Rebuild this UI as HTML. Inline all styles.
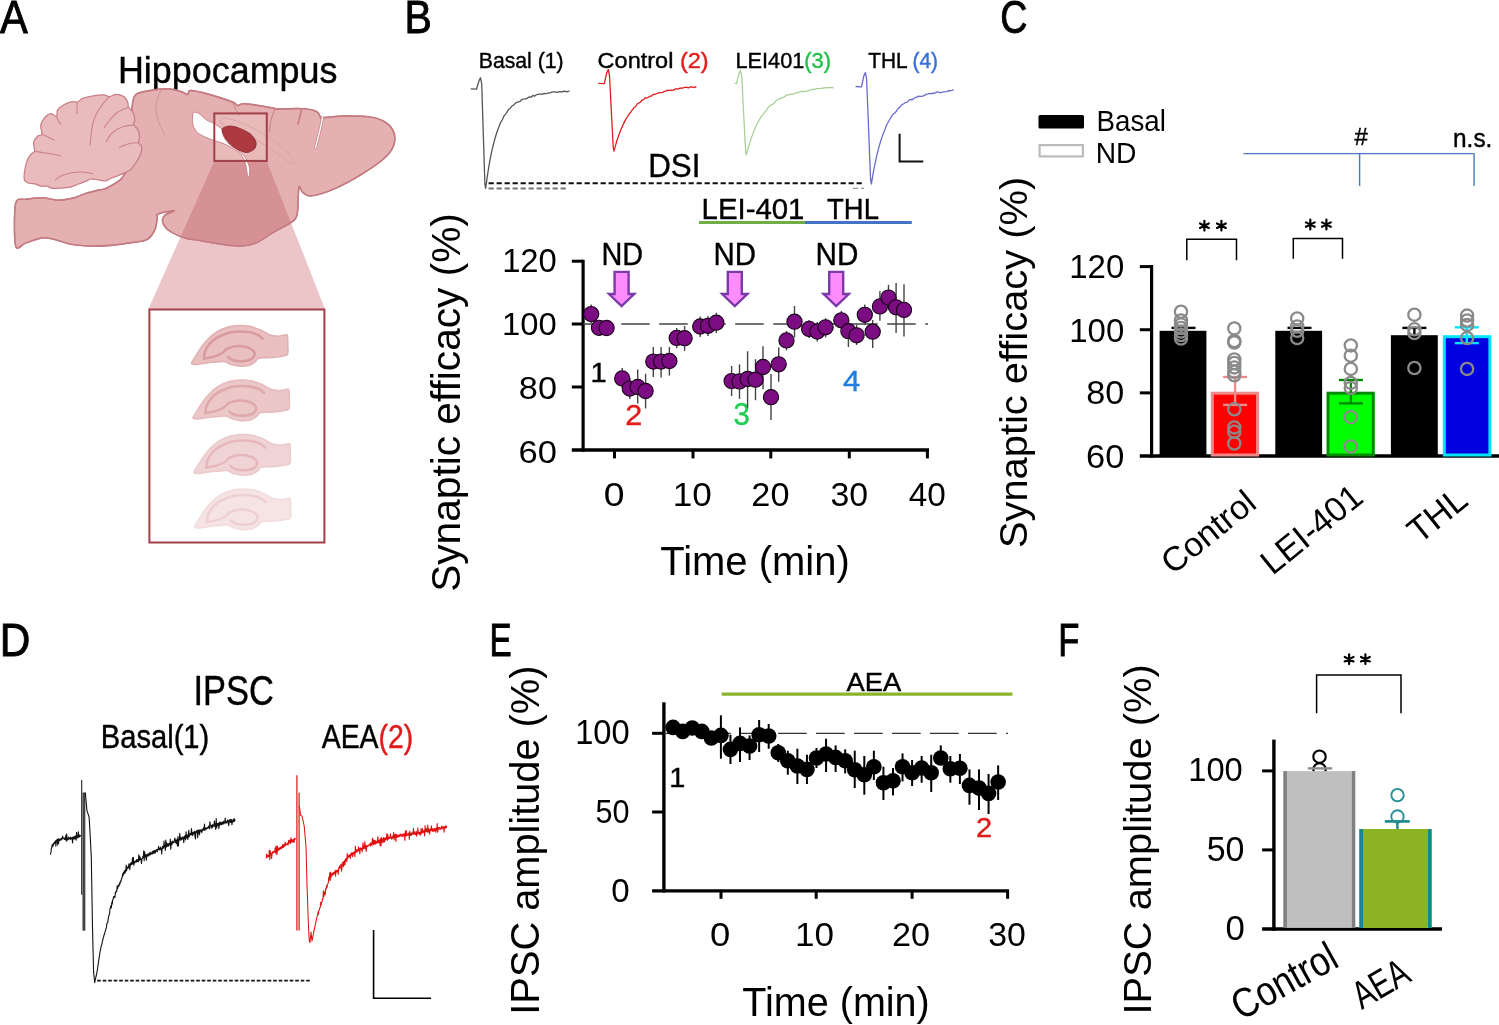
<!DOCTYPE html>
<html><head><meta charset="utf-8"><style>
html,body{margin:0;padding:0;background:#fff;overflow:hidden}
svg{display:block;will-change:transform}
text{font-family:"Liberation Sans",sans-serif;white-space:pre}
</style></head><body>
<svg width="1499" height="1025" viewBox="0 0 1499 1025">
<rect width="1499" height="1025" fill="#fff"/>
<text x="-0.1" y="32.7" font-size="46.4" textLength="27.79" lengthAdjust="spacingAndGlyphs" fill="#000" stroke="#000" stroke-width="0.9">A</text>
<text x="404.62" y="32.8" font-size="46.55" textLength="27.31" lengthAdjust="spacingAndGlyphs" fill="#000" stroke="#000" stroke-width="0.9">B</text>
<text x="1000.32" y="33.23" font-size="46.64" textLength="27.18" lengthAdjust="spacingAndGlyphs" fill="#000" stroke="#000" stroke-width="0.9">C</text>
<text x="-0.29" y="655.7" font-size="46.84" textLength="30.59" lengthAdjust="spacingAndGlyphs" fill="#000" stroke="#000" stroke-width="0.9">D</text>
<text x="489.46" y="655.7" font-size="47.13" textLength="22.13" lengthAdjust="spacingAndGlyphs" fill="#000" stroke="#000" stroke-width="0.9">E</text>
<text x="1058.24" y="655.7" font-size="47.13" textLength="21.18" lengthAdjust="spacingAndGlyphs" fill="#000" stroke="#000" stroke-width="0.9">F</text>
<text x="117.94" y="82.8" font-size="36.07" textLength="219.5" lengthAdjust="spacingAndGlyphs" fill="#000" stroke="#000" stroke-width="0.4">Hippocampus</text>
<defs><clipPath id="brainclip"><path d="M15.6,203.4 C17.18,196.4 22.11,200.16 26.1,199.3 C30.09,198.45 37.37,197.58 42.2,197.7 C47.03,197.82 53.47,200.1 58.3,200.1 C63.13,200.1 70.05,198.78 74.4,197.7 C78.75,196.62 83.43,194.1 87.3,192.9 C91.17,191.7 97.31,190.42 100.2,189.7 C103.09,188.98 103.33,189.85 106.6,188.1 C109.87,186.34 118.34,182.51 122,178 C125.66,173.49 129.35,165.5 131,158 C132.65,150.5 132.85,135.5 133,128 C133.15,120.5 131.61,113 132,108 C132.39,103 132.9,97.33 135.6,94.7 C138.3,92.08 145.2,91.39 150,90.5 C154.8,89.61 162.95,88.65 167.6,88.8 C172.25,88.95 177.99,90.64 181,91.5 C184.01,92.36 186.29,94.65 187.7,94.5 C189.11,94.35 187.36,90.58 190.4,90.5 C193.44,90.42 201.69,92.28 208,94 C214.31,95.72 228.03,100.28 232.5,102 C236.97,103.72 235.96,105.25 237.8,105.5 C239.65,105.75 239.54,103.33 244.8,103.7 C250.06,104.08 268.43,107.09 272.9,108 C277.37,108.91 273.81,109.65 274.6,109.8 C275.4,109.95 273.99,109.18 278.2,109 C282.41,108.82 296.91,108.21 302.7,108.6 C308.49,108.99 314.03,110.1 316.8,111.6 C319.57,113.1 320.15,117.68 321.2,118.6 C322.25,119.52 320.53,118.09 323.8,117.7 C327.07,117.31 336.14,116.12 343,116 C349.86,115.88 363.15,115.99 369.5,116.9 C375.85,117.81 381.62,119.73 385.3,122.1 C388.98,124.47 392.81,129.01 394,132.7 C395.19,136.39 394.77,142.75 393.2,146.7 C391.62,150.64 388.38,154.78 383.5,159 C378.62,163.22 368.08,170.33 360.7,174.8 C353.32,179.27 341.68,185.64 334.3,188.8 C326.92,191.97 316.24,195.36 311.5,195.9 C306.76,196.44 304.55,193.81 302.7,192.4 C300.85,190.99 299.86,185.96 299.2,186.5 C298.54,187.04 298.56,192.22 298.3,196 C298.05,199.78 298.14,208.04 297.5,211.7 C296.86,215.36 297.69,217.25 294,220.4 C290.31,223.55 278.7,229.26 272.9,232.7 C267.09,236.13 260.56,241.31 255.3,243.3 C250.04,245.3 243.07,245.9 237.8,246 C232.53,246.1 225.47,244.75 220.2,244 C214.93,243.25 207.96,241.9 202.7,241 C197.44,240.1 189.58,239.2 185.1,238 C180.62,236.8 175.67,234.5 172.8,233 C169.94,231.5 167.55,229.72 166,228 C164.45,226.28 162.71,223.39 162.5,221.5 C162.29,219.61 162.83,217.03 164.6,215.4 C166.37,213.77 175.28,210.84 174.3,210.6 C173.33,210.36 160.65,212.69 158.1,213.8 C155.55,214.91 157.78,215.59 157.3,218 C156.82,220.41 156.46,226.66 154.9,229.9 C153.34,233.14 150.52,237.66 146.9,239.6 C143.28,241.53 135.89,241.96 130.8,242.8 C125.72,243.64 119.05,244.72 113,245.2 C106.95,245.68 96.77,246.12 90.5,246 C84.23,245.88 76.51,245.36 71.2,244.4 C65.89,243.44 59.45,240.56 55.1,239.6 C50.75,238.64 46.55,237.52 42.2,238 C37.85,238.48 30.09,241.6 26.1,242.8 C22.11,244 17.18,251.91 15.6,246 C14.02,240.09 14.02,210.41 15.6,203.4Z"/></clipPath></defs>
<polygon points="214.4,161.1 266.7,161.1 325,309 148.4,309" fill="#ebc5c8"/>
<path d="M15.6,203.4 C17.18,196.4 22.11,200.16 26.1,199.3 C30.09,198.45 37.37,197.58 42.2,197.7 C47.03,197.82 53.47,200.1 58.3,200.1 C63.13,200.1 70.05,198.78 74.4,197.7 C78.75,196.62 83.43,194.1 87.3,192.9 C91.17,191.7 97.31,190.42 100.2,189.7 C103.09,188.98 103.33,189.85 106.6,188.1 C109.87,186.34 118.34,182.51 122,178 C125.66,173.49 129.35,165.5 131,158 C132.65,150.5 132.85,135.5 133,128 C133.15,120.5 131.61,113 132,108 C132.39,103 132.9,97.33 135.6,94.7 C138.3,92.08 145.2,91.39 150,90.5 C154.8,89.61 162.95,88.65 167.6,88.8 C172.25,88.95 177.99,90.64 181,91.5 C184.01,92.36 186.29,94.65 187.7,94.5 C189.11,94.35 187.36,90.58 190.4,90.5 C193.44,90.42 201.69,92.28 208,94 C214.31,95.72 228.03,100.28 232.5,102 C236.97,103.72 235.96,105.25 237.8,105.5 C239.65,105.75 239.54,103.33 244.8,103.7 C250.06,104.08 268.43,107.09 272.9,108 C277.37,108.91 273.81,109.65 274.6,109.8 C275.4,109.95 273.99,109.18 278.2,109 C282.41,108.82 296.91,108.21 302.7,108.6 C308.49,108.99 314.03,110.1 316.8,111.6 C319.57,113.1 320.15,117.68 321.2,118.6 C322.25,119.52 320.53,118.09 323.8,117.7 C327.07,117.31 336.14,116.12 343,116 C349.86,115.88 363.15,115.99 369.5,116.9 C375.85,117.81 381.62,119.73 385.3,122.1 C388.98,124.47 392.81,129.01 394,132.7 C395.19,136.39 394.77,142.75 393.2,146.7 C391.62,150.64 388.38,154.78 383.5,159 C378.62,163.22 368.08,170.33 360.7,174.8 C353.32,179.27 341.68,185.64 334.3,188.8 C326.92,191.97 316.24,195.36 311.5,195.9 C306.76,196.44 304.55,193.81 302.7,192.4 C300.85,190.99 299.86,185.96 299.2,186.5 C298.54,187.04 298.56,192.22 298.3,196 C298.05,199.78 298.14,208.04 297.5,211.7 C296.86,215.36 297.69,217.25 294,220.4 C290.31,223.55 278.7,229.26 272.9,232.7 C267.09,236.13 260.56,241.31 255.3,243.3 C250.04,245.3 243.07,245.9 237.8,246 C232.53,246.1 225.47,244.75 220.2,244 C214.93,243.25 207.96,241.9 202.7,241 C197.44,240.1 189.58,239.2 185.1,238 C180.62,236.8 175.67,234.5 172.8,233 C169.94,231.5 167.55,229.72 166,228 C164.45,226.28 162.71,223.39 162.5,221.5 C162.29,219.61 162.83,217.03 164.6,215.4 C166.37,213.77 175.28,210.84 174.3,210.6 C173.33,210.36 160.65,212.69 158.1,213.8 C155.55,214.91 157.78,215.59 157.3,218 C156.82,220.41 156.46,226.66 154.9,229.9 C153.34,233.14 150.52,237.66 146.9,239.6 C143.28,241.53 135.89,241.96 130.8,242.8 C125.72,243.64 119.05,244.72 113,245.2 C106.95,245.68 96.77,246.12 90.5,246 C84.23,245.88 76.51,245.36 71.2,244.4 C65.89,243.44 59.45,240.56 55.1,239.6 C50.75,238.64 46.55,237.52 42.2,238 C37.85,238.48 30.09,241.6 26.1,242.8 C22.11,244 17.18,251.91 15.6,246 C14.02,240.09 14.02,210.41 15.6,203.4Z" fill="#e4b0b1" stroke="#c47a81" stroke-width="1.4"/>
<polygon points="214.4,161.1 266.7,161.1 325,309 148.4,309" fill="#d69195" clip-path="url(#brainclip)"/>
<path d="M15.6,203.4 C17.18,196.4 22.11,200.16 26.1,199.3 C30.09,198.45 37.37,197.58 42.2,197.7 C47.03,197.82 53.47,200.1 58.3,200.1 C63.13,200.1 70.05,198.78 74.4,197.7 C78.75,196.62 83.43,194.1 87.3,192.9 C91.17,191.7 97.31,190.42 100.2,189.7 C103.09,188.98 103.33,189.85 106.6,188.1 C109.87,186.34 118.34,182.51 122,178 C125.66,173.49 129.35,165.5 131,158 C132.65,150.5 132.85,135.5 133,128 C133.15,120.5 131.61,113 132,108 C132.39,103 132.9,97.33 135.6,94.7 C138.3,92.08 145.2,91.39 150,90.5 C154.8,89.61 162.95,88.65 167.6,88.8 C172.25,88.95 177.99,90.64 181,91.5 C184.01,92.36 186.29,94.65 187.7,94.5 C189.11,94.35 187.36,90.58 190.4,90.5 C193.44,90.42 201.69,92.28 208,94 C214.31,95.72 228.03,100.28 232.5,102 C236.97,103.72 235.96,105.25 237.8,105.5 C239.65,105.75 239.54,103.33 244.8,103.7 C250.06,104.08 268.43,107.09 272.9,108 C277.37,108.91 273.81,109.65 274.6,109.8 C275.4,109.95 273.99,109.18 278.2,109 C282.41,108.82 296.91,108.21 302.7,108.6 C308.49,108.99 314.03,110.1 316.8,111.6 C319.57,113.1 320.15,117.68 321.2,118.6 C322.25,119.52 320.53,118.09 323.8,117.7 C327.07,117.31 336.14,116.12 343,116 C349.86,115.88 363.15,115.99 369.5,116.9 C375.85,117.81 381.62,119.73 385.3,122.1 C388.98,124.47 392.81,129.01 394,132.7 C395.19,136.39 394.77,142.75 393.2,146.7 C391.62,150.64 388.38,154.78 383.5,159 C378.62,163.22 368.08,170.33 360.7,174.8 C353.32,179.27 341.68,185.64 334.3,188.8 C326.92,191.97 316.24,195.36 311.5,195.9 C306.76,196.44 304.55,193.81 302.7,192.4 C300.85,190.99 299.86,185.96 299.2,186.5 C298.54,187.04 298.56,192.22 298.3,196 C298.05,199.78 298.14,208.04 297.5,211.7 C296.86,215.36 297.69,217.25 294,220.4 C290.31,223.55 278.7,229.26 272.9,232.7 C267.09,236.13 260.56,241.31 255.3,243.3 C250.04,245.3 243.07,245.9 237.8,246 C232.53,246.1 225.47,244.75 220.2,244 C214.93,243.25 207.96,241.9 202.7,241 C197.44,240.1 189.58,239.2 185.1,238 C180.62,236.8 175.67,234.5 172.8,233 C169.94,231.5 167.55,229.72 166,228 C164.45,226.28 162.71,223.39 162.5,221.5 C162.29,219.61 162.83,217.03 164.6,215.4 C166.37,213.77 175.28,210.84 174.3,210.6 C173.33,210.36 160.65,212.69 158.1,213.8 C155.55,214.91 157.78,215.59 157.3,218 C156.82,220.41 156.46,226.66 154.9,229.9 C153.34,233.14 150.52,237.66 146.9,239.6 C143.28,241.53 135.89,241.96 130.8,242.8 C125.72,243.64 119.05,244.72 113,245.2 C106.95,245.68 96.77,246.12 90.5,246 C84.23,245.88 76.51,245.36 71.2,244.4 C65.89,243.44 59.45,240.56 55.1,239.6 C50.75,238.64 46.55,237.52 42.2,238 C37.85,238.48 30.09,241.6 26.1,242.8 C22.11,244 17.18,251.91 15.6,246 C14.02,240.09 14.02,210.41 15.6,203.4Z" fill="none" stroke="#c47a81" stroke-width="1.4"/>
<path d="M24.2,178.8 C23.85,175.5 25.27,167.2 26.3,163.2 C27.33,159.2 29.02,156.8 30.4,154.8 C31.78,152.8 34.07,153.28 34.6,151.2 C35.13,149.12 33.07,144.83 33.6,142.3 C34.13,139.77 36.42,137.35 37.8,136 C39.18,134.65 41.38,136.12 41.9,134.2 C42.42,132.28 40.2,127.5 40.9,124.5 C41.6,121.5 44.37,118.02 46.1,116.2 C47.83,114.38 49.57,113.53 51.3,113.6 C53.03,113.67 55.45,117.22 56.5,116.6 C57.55,115.98 56.37,111.88 57.6,109.9 C58.83,107.92 61.47,106.08 63.9,104.7 C66.33,103.32 69.98,102.02 72.2,101.6 C74.42,101.18 75.47,102.73 77.2,102.2 C78.93,101.67 79.95,99.47 82.6,98.4 C85.25,97.33 89.62,96.4 93.1,95.8 C96.58,95.2 100.77,94.67 103.5,94.8 C106.23,94.93 107.4,96.68 109.5,96.6 C111.6,96.52 113.78,94.33 116.1,94.3 C118.42,94.27 121.5,95.18 123.4,96.4 C125.3,97.62 126.63,99.8 127.5,101.6 C128.37,103.4 127.72,105.47 128.6,107.2 C129.48,108.93 131.75,109.98 132.8,112 C133.85,114.02 134.73,117.17 134.9,119.3 C135.07,121.43 133.28,123.05 133.8,124.8 C134.32,126.55 137.03,127.75 138,129.8 C138.97,131.85 139.52,134.97 139.6,137.1 C139.68,139.23 138.17,141.03 138.5,142.6 C138.83,144.17 141.17,144.82 141.6,146.5 C142.03,148.18 141.87,150.27 141.1,152.7 C140.33,155.13 138.73,158.32 137,161.1 C135.27,163.88 133.5,167.13 130.7,169.4 C127.9,171.67 123.68,173.13 120.2,174.7 C116.72,176.27 112.23,177.77 109.8,178.8 C107.37,179.83 107.52,180.72 105.6,180.9 C103.68,181.08 100.73,180.25 98.3,179.9 C95.87,179.55 92.92,178.63 91,178.8 C89.08,178.97 88.88,180.03 86.8,180.9 C84.72,181.77 81.28,182.95 78.5,184 C75.72,185.05 73.23,186.5 70.1,187.2 C66.97,187.9 62.83,188.03 59.7,188.2 C56.57,188.37 53.4,188.53 51.3,188.2 C49.2,187.87 48.83,186.53 47.1,186.2 C45.37,185.87 42.8,186.57 40.9,186.2 C39,185.83 37.78,184.53 35.7,184 C33.62,183.47 30.32,183.87 28.4,183 C26.48,182.13 24.55,182.1 24.2,178.8Z" fill="#e9bbbd" stroke="#c98088" stroke-width="1.3"/>
<path d="M109.5,96.6 C107.92,98.5 102.73,103.68 100,108 C97.27,112.32 94.77,116.27 93.1,122.5 C91.43,128.73 90.52,141.58 90,145.4" fill="none" stroke="#cc838a" stroke-width="1.1"/>
<path d="M77.2,102.2 C77.17,103.17 77.05,106.02 77,108 C76.95,109.98 76.92,113.08 76.9,114.1" fill="none" stroke="#cc838a" stroke-width="1.1"/>
<path d="M56.5,116.6 C56.83,117.33 57.8,119.68 58.5,121 C59.2,122.32 60.33,123.92 60.7,124.5" fill="none" stroke="#cc838a" stroke-width="1.1"/>
<path d="M41.9,134.2 C42.92,134.67 45.9,136 48,137 C50.1,138 53.42,139.67 54.5,140.2" fill="none" stroke="#cc838a" stroke-width="1.1"/>
<path d="M34.6,151.2 C36.33,151.5 41.35,152.4 45,153 C48.65,153.6 53.83,154.3 56.5,154.8 C59.17,155.3 60.25,155.8 61,156" fill="none" stroke="#cc838a" stroke-width="1.1"/>
<path d="M128.6,107.2 C126.83,108 121.13,109.87 118,112 C114.87,114.13 112.13,117.33 109.8,120 C107.47,122.67 104.97,126.67 104,128" fill="none" stroke="#cc838a" stroke-width="1.1"/>
<path d="M133.8,124.8 C131.83,125.17 125.63,125.63 122,127 C118.37,128.37 114.67,130.5 112,133 C109.33,135.5 107,140.5 106,142" fill="none" stroke="#cc838a" stroke-width="1.1"/>
<path d="M138.5,142.6 C136.75,142.83 131.22,143.18 128,144 C124.78,144.82 120.67,146.92 119.2,147.5" fill="none" stroke="#cc838a" stroke-width="1.1"/>
<path d="M93.1,173.6 C90.92,173.33 84.87,171.82 80,172 C75.13,172.18 68.07,173.37 63.9,174.7 C59.73,176.03 56.48,179.12 55,180" fill="none" stroke="#cc838a" stroke-width="1.1"/>
<path d="M161,90 C160.17,92.5 156.5,100 156,105 C155.5,110 156.57,115 158,120 C159.43,125 163.5,132.5 164.6,135" fill="none" stroke="#d59398" stroke-width="1"/>
<path d="M274.6,109.8 C274,111.5 271.83,116.3 271,120 C270.17,123.7 269.83,130 269.6,132" fill="none" stroke="#cf8a8f" stroke-width="1.2"/>
<path d="M322.5,117.5 C322.08,119.58 321.17,125 320,130 C318.83,135 316.25,144.58 315.5,147.5" fill="none" stroke="#c98489" stroke-width="2.8" stroke-linecap="round"/>
<path d="M322.5,117.5 C322.08,119.58 321.17,125 320,130 C318.83,135 316.25,144.58 315.5,147.5" fill="none" stroke="#fff" stroke-width="1.3" stroke-linecap="round"/>
<path d="M301.5,109.5 C301.25,110.58 300.58,113.58 300,116 C299.42,118.42 298.33,122.67 298,124" fill="none" stroke="#c47a81" stroke-width="1.6" stroke-linecap="round"/>
<path d="M233,103 C233.5,104.17 234.83,107.83 236,110 C237.17,112.17 239.33,115 240,116" fill="none" stroke="#cf8a8f" stroke-width="1"/>
<rect x="215.2" y="114.3" width="50.7" height="45.8" fill="#f3d0d2" fill-opacity="0.3"/>
<path d="M193.5,112.4 C194.37,111.72 197.19,112.41 198.9,113.4 C200.61,114.39 204.26,118.44 206.3,119.8 C208.34,121.16 212.44,122.61 214.2,123.6 C215.96,124.59 218.42,126.41 219.5,127.2 C220.58,127.99 221.77,128.29 222.3,129.5 C222.83,130.71 222.58,134.34 223.5,136.3 C224.42,138.26 227.4,142.45 229.2,144.2 C231,145.95 235.13,148 237,149.4 C238.87,150.8 241.91,153.29 243.2,154.7 C244.49,156.11 245.85,158.24 246.7,160 C247.55,161.76 249.27,165.77 249.6,167.9 C249.93,170.03 249.47,174.92 249.2,176 C248.93,177.08 247.97,177.07 247.6,176 C247.23,174.93 246.77,169.91 246.4,168 C246.03,166.09 245.36,163.23 244.8,161.7 C244.24,160.17 243.01,157.78 242.2,156.5 C241.39,155.22 240.1,153.27 238.7,152.1 C237.3,150.93 233.81,148.87 231.7,147.7 C229.59,146.53 225.37,144.3 222.9,143.3 C220.43,142.3 215.55,141.03 213.2,140.2 C210.85,139.37 207.38,138.09 205.3,137.1 C203.22,136.11 199.19,134.25 197.6,132.8 C196.01,131.35 194.09,128.11 193.4,126.2 C192.71,124.29 192.39,120.34 192.4,118.5 C192.41,116.66 192.63,113.08 193.5,112.4Z" fill="#ffffff" stroke="#c47a81" stroke-width="0.9"/>
<path d="M221.3,118.3 C223.97,117.63 233.22,119.55 240,122 C246.78,124.45 255,128.83 262,133 C269,137.17 276.78,142.5 282,147 C287.22,151.5 291.8,157.25 293.3,160 C294.8,162.75 293.55,164.5 291,163.5 C288.45,162.5 283.5,157.75 278,154 C272.5,150.25 264.67,144.83 258,141 C251.33,137.17 243.67,133.5 238,131 C232.33,128.5 226.78,128.12 224,126 C221.22,123.88 218.63,118.97 221.3,118.3Z" fill="none" stroke="#d9a0a5" stroke-width="0.8"/>
<path d="M222.1,129.2 C222.73,127.48 226.15,126.6 228.3,126.2 C230.45,125.8 232.8,126.3 235,126.8 C237.2,127.3 239.33,128.25 241.5,129.2 C243.67,130.15 246.17,131.37 248,132.5 C249.83,133.63 251.17,134.35 252.5,136 C253.83,137.65 255.58,140.4 256,142.4 C256.42,144.4 255.67,146.63 255,148 C254.33,149.37 253.38,149.85 252,150.6 C250.62,151.35 248.7,152.52 246.7,152.5 C244.7,152.48 242.28,151.5 240,150.5 C237.72,149.5 235,148 233,146.5 C231,145 229.42,143.17 228,141.5 C226.58,139.83 225.48,138.55 224.5,136.5 C223.52,134.45 221.47,130.92 222.1,129.2Z" fill="#ae3a41" stroke="#932c33" stroke-width="1"/>
<rect x="214.3" y="113.4" width="52.5" height="47.5" fill="none" stroke="#a2404a" stroke-width="2"/>
<rect x="149.4" y="309.5" width="175" height="233" fill="#fff" stroke="#a2404a" stroke-width="2"/>
<path d="M191.6,363 C191.78,361.97 194.72,357.75 196,355.7 C197.28,353.65 200.8,347.72 202.6,345.4 C204.4,343.08 209.17,337.69 211.4,335.8 C213.63,333.91 218.96,330.36 221.7,329.2 C224.44,328.04 231.66,326.24 234.9,325.9 C238.14,325.56 246.51,325.82 249.5,326.3 C252.49,326.78 258.1,328.97 260.5,330 C262.9,331.03 267.95,334.38 270.1,335.1 C272.25,335.82 276.93,336.22 278.9,336.2 C280.87,336.18 285.97,333.83 287,334.9 C288.03,335.97 287.7,343.07 287.7,345.4 C287.7,347.73 288.88,353.49 287,354.9 C285.12,356.31 274.86,357.15 271.6,357.5 C268.35,357.85 260.99,357.43 259.1,357.9 C257.21,358.37 256.52,360.65 255.4,361.5 C254.28,362.35 251.22,364.64 249.5,365.2 C247.78,365.76 242.83,366.38 240.7,366.3 C238.56,366.22 233.08,365.06 231.2,364.5 C229.32,363.94 226.73,361.76 224.6,361.5 C222.47,361.24 215.56,362.04 212.9,362.3 C210.24,362.56 203.95,363.44 201.8,363.7 C199.65,363.96 195.69,364.58 194.5,364.5 C193.31,364.42 191.42,364.03 191.6,363Z" fill="#e9bfc0" stroke="#e2b1b4" stroke-width="1.6"/>
<path d="M204,358.6 C204.17,357.42 204.08,353.93 205,351.5 C205.92,349.07 207.58,346.25 209.5,344 C211.42,341.75 212.88,339.97 216.5,338 C220.12,336.03 226.3,333.23 231.2,332.2 C236.1,331.17 241.62,331.43 245.9,331.8 C250.18,332.17 254.13,333.28 256.9,334.4 C259.67,335.52 261.57,337.82 262.5,338.5" fill="none" stroke="#d99ba0" stroke-width="2.6" stroke-linecap="round"/>
<path d="M204,358.6 C205.48,358.32 210.15,357.67 212.9,356.9 C215.65,356.13 218.4,355.15 220.5,354 C222.6,352.85 224.67,350.67 225.5,350" fill="none" stroke="#d99ba0" stroke-width="2.4" stroke-linecap="round"/>
<path d="M226.5,349 C227.83,348.55 231.5,346.72 234.5,346.3 C237.5,345.88 241.5,345.88 244.5,346.5 C247.5,347.12 250.83,348.58 252.5,350 C254.17,351.42 254.83,353.42 254.5,355 C254.17,356.58 252.67,358.45 250.5,359.5 C248.33,360.55 244.5,361.22 241.5,361.3 C238.5,361.38 234.75,360.72 232.5,360 C230.25,359.28 228.75,357.5 228,357" fill="none" stroke="#d99ba0" stroke-width="2.6" stroke-linecap="round"/>
<path d="M193.1,417.5 C193.28,416.47 196.22,412.25 197.5,410.2 C198.78,408.15 202.3,402.22 204.1,399.9 C205.9,397.58 210.67,392.19 212.9,390.3 C215.13,388.41 220.46,384.86 223.2,383.7 C225.94,382.54 233.16,380.74 236.4,380.4 C239.64,380.06 248.01,380.32 251,380.8 C253.99,381.28 259.6,383.47 262,384.5 C264.4,385.53 269.45,388.88 271.6,389.6 C273.75,390.32 278.43,390.72 280.4,390.7 C282.37,390.68 287.47,388.33 288.5,389.4 C289.53,390.47 289.2,397.57 289.2,399.9 C289.2,402.23 290.38,407.99 288.5,409.4 C286.62,410.81 276.36,411.65 273.1,412 C269.85,412.35 262.49,411.93 260.6,412.4 C258.71,412.87 258.02,415.15 256.9,416 C255.78,416.85 252.72,419.14 251,419.7 C249.28,420.26 244.33,420.88 242.2,420.8 C240.06,420.72 234.58,419.56 232.7,419 C230.82,418.44 228.23,416.26 226.1,416 C223.97,415.74 217.06,416.54 214.4,416.8 C211.74,417.06 205.45,417.94 203.3,418.2 C201.15,418.46 197.19,419.08 196,419 C194.81,418.92 192.92,418.53 193.1,417.5Z" fill="#ecc7c8" stroke="#e6bcbe" stroke-width="1.6"/>
<path d="M205.5,413.1 C205.67,411.92 205.58,408.43 206.5,406 C207.42,403.57 209.08,400.75 211,398.5 C212.92,396.25 214.38,394.47 218,392.5 C221.62,390.53 227.8,387.73 232.7,386.7 C237.6,385.67 243.12,385.93 247.4,386.3 C251.68,386.67 255.63,387.78 258.4,388.9 C261.17,390.02 263.07,392.32 264,393" fill="none" stroke="#dea8ac" stroke-width="2.6" stroke-linecap="round"/>
<path d="M205.5,413.1 C206.98,412.82 211.65,412.17 214.4,411.4 C217.15,410.63 219.9,409.65 222,408.5 C224.1,407.35 226.17,405.17 227,404.5" fill="none" stroke="#dea8ac" stroke-width="2.4" stroke-linecap="round"/>
<path d="M228,403.5 C229.33,403.05 233,401.22 236,400.8 C239,400.38 243,400.38 246,401 C249,401.62 252.33,403.08 254,404.5 C255.67,405.92 256.33,407.92 256,409.5 C255.67,411.08 254.17,412.95 252,414 C249.83,415.05 246,415.72 243,415.8 C240,415.88 236.25,415.22 234,414.5 C231.75,413.78 230.25,412 229.5,411.5" fill="none" stroke="#dea8ac" stroke-width="2.6" stroke-linecap="round"/>
<path d="M194.1,472 C194.28,470.97 197.22,466.75 198.5,464.7 C199.78,462.65 203.3,456.72 205.1,454.4 C206.9,452.08 211.67,446.69 213.9,444.8 C216.13,442.91 221.46,439.36 224.2,438.2 C226.94,437.04 234.16,435.24 237.4,434.9 C240.64,434.56 249.01,434.82 252,435.3 C254.99,435.78 260.6,437.97 263,439 C265.4,440.03 270.45,443.38 272.6,444.1 C274.75,444.82 279.43,445.22 281.4,445.2 C283.37,445.18 288.47,442.83 289.5,443.9 C290.53,444.97 290.2,452.07 290.2,454.4 C290.2,456.73 291.38,462.49 289.5,463.9 C287.62,465.31 277.36,466.15 274.1,466.5 C270.85,466.85 263.49,466.43 261.6,466.9 C259.71,467.37 259.02,469.65 257.9,470.5 C256.78,471.35 253.72,473.64 252,474.2 C250.28,474.76 245.33,475.38 243.2,475.3 C241.06,475.22 235.58,474.06 233.7,473.5 C231.82,472.94 229.23,470.76 227.1,470.5 C224.97,470.24 218.06,471.04 215.4,471.3 C212.74,471.56 206.45,472.44 204.3,472.7 C202.15,472.96 198.19,473.58 197,473.5 C195.81,473.42 193.92,473.03 194.1,472Z" fill="#f0d3d4" stroke="#ecc9cb" stroke-width="1.6"/>
<path d="M206.5,467.6 C206.67,466.42 206.58,462.93 207.5,460.5 C208.42,458.07 210.08,455.25 212,453 C213.92,450.75 215.38,448.97 219,447 C222.62,445.03 228.8,442.23 233.7,441.2 C238.6,440.17 244.12,440.43 248.4,440.8 C252.68,441.17 256.63,442.28 259.4,443.4 C262.17,444.52 264.07,446.82 265,447.5" fill="none" stroke="#e6b8bb" stroke-width="2.6" stroke-linecap="round"/>
<path d="M206.5,467.6 C207.98,467.32 212.65,466.67 215.4,465.9 C218.15,465.13 220.9,464.15 223,463 C225.1,461.85 227.17,459.67 228,459" fill="none" stroke="#e6b8bb" stroke-width="2.4" stroke-linecap="round"/>
<path d="M229,458 C230.33,457.55 234,455.72 237,455.3 C240,454.88 244,454.88 247,455.5 C250,456.12 253.33,457.58 255,459 C256.67,460.42 257.33,462.42 257,464 C256.67,465.58 255.17,467.45 253,468.5 C250.83,469.55 247,470.22 244,470.3 C241,470.38 237.25,469.72 235,469 C232.75,468.28 231.25,466.5 230.5,466" fill="none" stroke="#e6b8bb" stroke-width="2.6" stroke-linecap="round"/>
<path d="M194.6,526.5 C194.78,525.47 197.72,521.25 199,519.2 C200.28,517.15 203.8,511.22 205.6,508.9 C207.4,506.58 212.17,501.19 214.4,499.3 C216.63,497.41 221.96,493.86 224.7,492.7 C227.44,491.54 234.66,489.74 237.9,489.4 C241.14,489.06 249.51,489.32 252.5,489.8 C255.49,490.28 261.1,492.47 263.5,493.5 C265.9,494.53 270.95,497.88 273.1,498.6 C275.25,499.32 279.93,499.72 281.9,499.7 C283.87,499.68 288.97,497.33 290,498.4 C291.03,499.47 290.7,506.57 290.7,508.9 C290.7,511.23 291.88,516.99 290,518.4 C288.12,519.81 277.86,520.65 274.6,521 C271.35,521.35 263.99,520.93 262.1,521.4 C260.21,521.87 259.52,524.15 258.4,525 C257.28,525.85 254.22,528.14 252.5,528.7 C250.78,529.26 245.83,529.88 243.7,529.8 C241.56,529.72 236.08,528.56 234.2,528 C232.32,527.44 229.73,525.26 227.6,525 C225.47,524.74 218.56,525.54 215.9,525.8 C213.24,526.06 206.95,526.94 204.8,527.2 C202.65,527.46 198.69,528.08 197.5,528 C196.31,527.92 194.42,527.53 194.6,526.5Z" fill="#f6e3e3" stroke="#f2dcdd" stroke-width="1.6"/>
<path d="M207,522.1 C207.17,520.92 207.08,517.43 208,515 C208.92,512.57 210.58,509.75 212.5,507.5 C214.42,505.25 215.88,503.47 219.5,501.5 C223.12,499.53 229.3,496.73 234.2,495.7 C239.1,494.67 244.62,494.93 248.9,495.3 C253.18,495.67 257.13,496.78 259.9,497.9 C262.67,499.02 264.57,501.32 265.5,502" fill="none" stroke="#eed0d2" stroke-width="2.6" stroke-linecap="round"/>
<path d="M207,522.1 C208.48,521.82 213.15,521.17 215.9,520.4 C218.65,519.63 221.4,518.65 223.5,517.5 C225.6,516.35 227.67,514.17 228.5,513.5" fill="none" stroke="#eed0d2" stroke-width="2.4" stroke-linecap="round"/>
<path d="M229.5,512.5 C230.83,512.05 234.5,510.22 237.5,509.8 C240.5,509.38 244.5,509.38 247.5,510 C250.5,510.62 253.83,512.08 255.5,513.5 C257.17,514.92 257.83,516.92 257.5,518.5 C257.17,520.08 255.67,521.95 253.5,523 C251.33,524.05 247.5,524.72 244.5,524.8 C241.5,524.88 237.75,524.22 235.5,523.5 C233.25,522.78 231.75,521 231,520.5" fill="none" stroke="#eed0d2" stroke-width="2.6" stroke-linecap="round"/>
<text x="478.75" y="67.8" font-size="21.53" textLength="84.85" lengthAdjust="spacingAndGlyphs" fill="#000" stroke="#000" stroke-width="0.4">Basal (1)</text>
<text x="597.62" y="67.8" font-size="21.53" textLength="111.02" lengthAdjust="spacingAndGlyphs" fill="#000" stroke="#000" stroke-width="0.4">Control <tspan fill="#e51c1c" stroke="#e51c1c">(2)</tspan></text>
<text x="735.51" y="67.8" font-size="21.53" textLength="95.43" lengthAdjust="spacingAndGlyphs" fill="#000" stroke="#000" stroke-width="0.4">LEI401<tspan fill="#22c04a" stroke="#22c04a">(3)</tspan></text>
<text x="868.23" y="67.8" font-size="21.53" textLength="69.81" lengthAdjust="spacingAndGlyphs" fill="#000" stroke="#000" stroke-width="0.4">THL <tspan fill="#3a6fd8" stroke="#3a6fd8">(4)</tspan></text>
<path d="M470.8,88.9 L476.5,89.2 L479,80.8 L480.5,77.8 L481.7,83.8 L484.9,184.3 L485.7,188.3 L486.2,184.43 L486.76,180.3 L487.39,175.92 L488.09,171.3 L488.88,166.46 L489.76,161.43 L490.74,156.25 L491.85,150.96 L493.09,145.62 L494.47,140.29 L496.03,135.02 L497.63,130.28 L499.23,125.89 L500.83,122.02 L502.43,119.53 L504.03,115.91 L505.63,114.08 L507.23,111.65 L508.83,109.28 L510.43,108.18 L512.03,105.98 L513.63,105.16 L515.23,103.41 L516.83,102.33 L518.43,101.8 L520.03,101.45 L521.63,99.65 L523.23,99.04 L524.83,98.92 L526.43,98.75 L528.03,97.66 L529.63,96.88 L531.23,97.21 L532.83,95.46 L534.43,96.18 L536.03,95.01 L537.63,94.45 L539.23,94.08 L540.83,94.04 L542.43,94.46 L544.03,93.31 L545.63,93.62 L547.23,93.46 L548.83,92.87 L550.43,92.91 L552.03,92.03 L553.63,91.85 L555.23,91.88 L556.83,92.38 L558.43,91.88 L560.03,91.57 L561.63,91.82 L563.23,91.51 L564.83,91.17 L566.43,91.75 L568.03,91.51 L569.63,90.77" fill="none" stroke="#555555" stroke-width="1.3" stroke-linejoin="round"/>
<path d="M598.3,83.4 L604.3,83.7 L606.8,72.5 L608.3,69.5 L609.5,75.5 L613.2,147 L614,151 L614.5,149.12 L615.06,147.08 L615.69,144.88 L616.39,142.53 L617.18,140.02 L618.06,137.35 L619.04,134.54 L620.15,131.59 L621.39,128.53 L622.77,125.37 L624.33,122.15 L625.93,119.14 L627.53,116.52 L629.13,113.97 L630.73,112.22 L632.33,109.98 L633.93,107.51 L635.53,106.79 L637.13,104.04 L638.73,103.06 L640.33,102.25 L641.93,100.23 L643.53,99.63 L645.13,98.01 L646.73,97.98 L648.33,97.29 L649.93,96.25 L651.53,95.96 L653.13,94.52 L654.73,94.45 L656.33,93.75 L657.93,93.21 L659.53,92.55 L661.13,92.64 L662.73,92.37 L664.33,91.32 L665.93,91.22 L667.53,90.03 L669.13,90.61 L670.73,90.23 L672.33,90.43 L673.93,89.92 L675.53,88.92 L677.13,88.83 L678.73,89 L680.33,87.89 L681.93,88.3 L683.53,87.7 L685.13,87.45 L686.73,87.2 L688.33,88.03 L689.93,86.98 L691.53,87 L693.13,87.07 L694.73,87.61 L696.33,86.37" fill="none" stroke="#e02020" stroke-width="1.3" stroke-linejoin="round"/>
<path d="M734.7,83.4 L736.5,83.7 L739,73.4 L740.5,70.4 L741.7,76.4 L745.6,150.8 L746.4,154.8 L746.9,152.84 L747.46,150.72 L748.09,148.43 L748.79,145.97 L749.58,143.36 L750.46,140.58 L751.44,137.65 L752.55,134.58 L753.79,131.39 L755.17,128.1 L756.73,124.74 L758.33,121.61 L759.93,118.69 L761.53,116.26 L763.13,114.39 L764.73,112.18 L766.33,110.31 L767.93,107.73 L769.53,106.32 L771.13,104.78 L772.73,104.18 L774.33,103.06 L775.93,100.81 L777.53,99.81 L779.13,98.95 L780.73,98.08 L782.33,97.63 L783.93,97.04 L785.53,95.9 L787.13,94.91 L788.73,94.91 L790.33,94.29 L791.93,94.07 L793.53,94.14 L795.13,93.33 L796.73,92.68 L798.33,92.44 L799.93,92.17 L801.53,90.96 L803.13,91.83 L804.73,91.37 L806.33,91.23 L807.93,90.86 L809.53,90.05 L811.13,89.82 L812.73,89.19 L814.33,89.72 L815.93,88.73 L817.53,88.55 L819.13,88.57 L820.73,88.34 L822.33,88.43 L823.93,87.87 L825.53,87.65 L827.13,87.73 L828.73,87.53 L830.33,87.77 L831.93,87.18 L833.53,88.25" fill="none" stroke="#a9d196" stroke-width="1.3" stroke-linejoin="round"/>
<path d="M855.6,86.5 L861.4,86.8 L863.9,75.6 L865.4,72.6 L866.6,78.6 L870.6,180 L871.4,184 L871.9,180.85 L872.46,177.46 L873.09,173.83 L873.79,169.97 L874.58,165.88 L875.46,161.57 L876.44,157.08 L877.55,152.42 L878.79,147.64 L880.17,142.78 L881.73,137.89 L883.33,133.39 L884.93,129.54 L886.53,125.3 L888.13,122.24 L889.73,119.49 L891.33,116.94 L892.93,114.28 L894.53,113.2 L896.13,111.52 L897.73,109.08 L899.33,107.56 L900.93,105.6 L902.53,104.34 L904.13,103.52 L905.73,102.35 L907.33,102.17 L908.93,100.34 L910.53,99.33 L912.13,99.88 L913.73,98.59 L915.33,97.41 L916.93,97.37 L918.53,96.09 L920.13,96.28 L921.73,96.43 L923.33,95.83 L924.93,95.17 L926.53,94.17 L928.13,93.95 L929.73,93.33 L931.33,93.85 L932.93,93.21 L934.53,93.27 L936.13,92.37 L937.73,91.96 L939.33,92.54 L940.93,92.56 L942.53,92.15 L944.13,91.88 L945.73,91.7 L947.33,91.4 L948.93,90.51 L950.53,90.74 L952.13,90.36 L953.73,89.75" fill="none" stroke="#6a6ccc" stroke-width="1.3" stroke-linejoin="round"/>
<line x1="488.6" y1="183.3" x2="863" y2="183.3" stroke="#111" stroke-width="2" stroke-dasharray="5.2 2.8"/>
<line x1="488.6" y1="188.4" x2="565.8" y2="188.4" stroke="#777" stroke-width="2" stroke-dasharray="5.2 2.8"/>
<line x1="853" y1="188.4" x2="864" y2="188.4" stroke="#999" stroke-width="1.2" stroke-dasharray="5.2 2.8"/>
<text x="648.21" y="177" font-size="32.73" textLength="52.27" lengthAdjust="spacingAndGlyphs" fill="#000" stroke="#000" stroke-width="0.4">DSI</text>
<path d="M899.6,133.7 L899.6,161.4 L923.3,161.4" fill="none" stroke="#111" stroke-width="2"/>
<text x="701.58" y="218.5" font-size="29.09" textLength="102.82" lengthAdjust="spacingAndGlyphs" fill="#000" stroke="#000" stroke-width="0.4">LEI-401</text>
<text x="827.08" y="218.5" font-size="29.09" textLength="51.86" lengthAdjust="spacingAndGlyphs" fill="#000" stroke="#000" stroke-width="0.4">THL</text>
<line x1="699" y1="222.6" x2="805" y2="222.6" stroke="#70ad47" stroke-width="3"/>
<line x1="805" y1="222.6" x2="911.8" y2="222.6" stroke="#4472c4" stroke-width="3"/>
<line x1="583.1" y1="259.8" x2="583.1" y2="451.7" stroke="#000" stroke-width="3.2"/>
<line x1="571.8" y1="261.2" x2="583.1" y2="261.2" stroke="#000" stroke-width="3"/>
<line x1="571.8" y1="324" x2="583.1" y2="324" stroke="#000" stroke-width="3"/>
<line x1="571.8" y1="387" x2="583.1" y2="387" stroke="#000" stroke-width="3"/>
<line x1="571.8" y1="450" x2="929" y2="450" stroke="#000" stroke-width="3.4"/>
<line x1="614.5" y1="450" x2="614.5" y2="458.4" stroke="#000" stroke-width="3"/>
<line x1="693" y1="450" x2="693" y2="458.4" stroke="#000" stroke-width="3"/>
<line x1="770.8" y1="450" x2="770.8" y2="458.4" stroke="#000" stroke-width="3"/>
<line x1="849.3" y1="450" x2="849.3" y2="458.4" stroke="#000" stroke-width="3"/>
<line x1="927.4" y1="450" x2="927.4" y2="458.4" stroke="#000" stroke-width="3"/>
<text x="502.14" y="271.57" font-size="32.81" textLength="54.72" lengthAdjust="spacingAndGlyphs" fill="#000">120</text>
<text x="502.14" y="335.08" font-size="32.09" textLength="54.72" lengthAdjust="spacingAndGlyphs" fill="#000">100</text>
<text x="518.84" y="399.08" font-size="32.09" textLength="38.12" lengthAdjust="spacingAndGlyphs" fill="#000">80</text>
<text x="518.57" y="463.08" font-size="32.09" textLength="38.4" lengthAdjust="spacingAndGlyphs" fill="#000">60</text>
<text x="603.81" y="505.67" font-size="33.38" textLength="20.73" lengthAdjust="spacingAndGlyphs" fill="#000">0</text>
<text x="672.67" y="505.67" font-size="33.38" textLength="39.03" lengthAdjust="spacingAndGlyphs" fill="#000">10</text>
<text x="751.39" y="505.67" font-size="33.38" textLength="38.08" lengthAdjust="spacingAndGlyphs" fill="#000">20</text>
<text x="830.43" y="505.67" font-size="33.38" textLength="37.62" lengthAdjust="spacingAndGlyphs" fill="#000">30</text>
<text x="908.75" y="505.67" font-size="33.38" textLength="37.08" lengthAdjust="spacingAndGlyphs" fill="#000">40</text>
<text x="660.2" y="575.2" font-size="40.58" textLength="189.61" lengthAdjust="spacingAndGlyphs" fill="#000">Time (min)</text>
<text transform="translate(449.9,402.8) rotate(-90)" x="-189.03" y="10.49" font-size="40.54" textLength="378.71" lengthAdjust="spacingAndGlyphs" fill="#000">Synaptic efficacy (%)</text>
<line x1="583.2" y1="324" x2="928" y2="324" stroke="#444" stroke-width="1.3" stroke-dasharray="28.5 9.5"/>
<path d="M614.6,271.9 L628.6,271.9 L628.6,294 L634.2,294 L621.6,306.2 L609,294 L614.6,294Z" fill="#ff8cff" stroke="#7a3aa8" stroke-width="2.4" stroke-linejoin="miter"/>
<path d="M727.8,271.9 L741.8,271.9 L741.8,294 L747.4,294 L734.8,306.2 L722.2,294 L727.8,294Z" fill="#ff8cff" stroke="#7a3aa8" stroke-width="2.4" stroke-linejoin="miter"/>
<path d="M829.2,271.9 L843.2,271.9 L843.2,294 L848.8,294 L836.2,306.2 L823.6,294 L829.2,294Z" fill="#ff8cff" stroke="#7a3aa8" stroke-width="2.4" stroke-linejoin="miter"/>
<text x="601.42" y="264.8" font-size="30.98" textLength="41.74" lengthAdjust="spacingAndGlyphs" fill="#000" stroke="#000" stroke-width="0.4">ND</text>
<text x="713.57" y="264.8" font-size="30.98" textLength="42.51" lengthAdjust="spacingAndGlyphs" fill="#000" stroke="#000" stroke-width="0.4">ND</text>
<text x="815.55" y="264.8" font-size="30.98" textLength="42.84" lengthAdjust="spacingAndGlyphs" fill="#000" stroke="#000" stroke-width="0.4">ND</text>
<text x="590.62" y="381.9" font-size="26.76" textLength="16.2" lengthAdjust="spacingAndGlyphs" fill="#000" stroke="#000" stroke-width="0.4">1</text>
<text x="625.37" y="424.6" font-size="29.94" textLength="16.99" lengthAdjust="spacingAndGlyphs" fill="#e51c1c" stroke="#e51c1c" stroke-width="0.4">2</text>
<text x="733.49" y="424.59" font-size="30.52" textLength="16.39" lengthAdjust="spacingAndGlyphs" fill="#22cc55" stroke="#22cc55" stroke-width="0.4">3</text>
<text x="842.9" y="391.3" font-size="29.82" textLength="17.29" lengthAdjust="spacingAndGlyphs" fill="#1e7fe0" stroke="#1e7fe0" stroke-width="0.4">4</text>
<line x1="591.2" y1="304.6" x2="591.2" y2="323" stroke="#444" stroke-width="1.4"/>
<line x1="622.2" y1="368" x2="622.2" y2="388" stroke="#444" stroke-width="1.4"/>
<line x1="629.8" y1="378" x2="629.8" y2="399" stroke="#444" stroke-width="1.4"/>
<line x1="637.7" y1="369.6" x2="637.7" y2="403.5" stroke="#444" stroke-width="1.4"/>
<line x1="645.6" y1="373.7" x2="645.6" y2="408.5" stroke="#444" stroke-width="1.4"/>
<line x1="653.3" y1="347" x2="653.3" y2="376.9" stroke="#444" stroke-width="1.4"/>
<line x1="661.1" y1="347" x2="661.1" y2="377.5" stroke="#444" stroke-width="1.4"/>
<line x1="669.4" y1="347" x2="669.4" y2="375.6" stroke="#444" stroke-width="1.4"/>
<line x1="676.7" y1="328" x2="676.7" y2="348.3" stroke="#444" stroke-width="1.4"/>
<line x1="684.6" y1="326" x2="684.6" y2="350.9" stroke="#444" stroke-width="1.4"/>
<line x1="700.2" y1="316.6" x2="700.2" y2="337" stroke="#444" stroke-width="1.4"/>
<line x1="708" y1="316" x2="708" y2="336" stroke="#444" stroke-width="1.4"/>
<line x1="716.3" y1="312.8" x2="716.3" y2="333.1" stroke="#444" stroke-width="1.4"/>
<line x1="731.6" y1="366" x2="731.6" y2="396.1" stroke="#444" stroke-width="1.4"/>
<line x1="739.5" y1="364.4" x2="739.5" y2="398.9" stroke="#444" stroke-width="1.4"/>
<line x1="747.6" y1="351.3" x2="747.6" y2="407.7" stroke="#444" stroke-width="1.4"/>
<line x1="755.5" y1="359.2" x2="755.5" y2="400.2" stroke="#444" stroke-width="1.4"/>
<line x1="763" y1="346.3" x2="763" y2="389.3" stroke="#444" stroke-width="1.4"/>
<line x1="771" y1="374" x2="771" y2="420" stroke="#444" stroke-width="1.4"/>
<line x1="778.7" y1="347.6" x2="778.7" y2="381.8" stroke="#444" stroke-width="1.4"/>
<line x1="786.5" y1="331" x2="786.5" y2="350.4" stroke="#444" stroke-width="1.4"/>
<line x1="794.5" y1="306" x2="794.5" y2="337.4" stroke="#444" stroke-width="1.4"/>
<line x1="809.1" y1="320" x2="809.1" y2="338" stroke="#444" stroke-width="1.4"/>
<line x1="817.3" y1="322" x2="817.3" y2="341.5" stroke="#444" stroke-width="1.4"/>
<line x1="825.6" y1="318.3" x2="825.6" y2="337.4" stroke="#444" stroke-width="1.4"/>
<line x1="841.3" y1="311" x2="841.3" y2="330" stroke="#444" stroke-width="1.4"/>
<line x1="848.4" y1="320" x2="848.4" y2="347" stroke="#444" stroke-width="1.4"/>
<line x1="856.6" y1="325" x2="856.6" y2="345" stroke="#444" stroke-width="1.4"/>
<line x1="864.8" y1="304.6" x2="864.8" y2="325" stroke="#444" stroke-width="1.4"/>
<line x1="872.7" y1="320" x2="872.7" y2="348" stroke="#444" stroke-width="1.4"/>
<line x1="879.9" y1="291" x2="879.9" y2="320.8" stroke="#444" stroke-width="1.4"/>
<line x1="888.5" y1="284.8" x2="888.5" y2="310" stroke="#444" stroke-width="1.4"/>
<line x1="896.1" y1="283" x2="896.1" y2="333" stroke="#444" stroke-width="1.4"/>
<line x1="904" y1="284.2" x2="904" y2="336.6" stroke="#444" stroke-width="1.4"/>
<circle cx="591.2" cy="314.1" r="7.6" fill="#7b0c82" stroke="#1a001a" stroke-width="1.1"/>
<circle cx="599" cy="327.8" r="7.6" fill="#7b0c82" stroke="#1a001a" stroke-width="1.1"/>
<circle cx="606.6" cy="328" r="7.6" fill="#7b0c82" stroke="#1a001a" stroke-width="1.1"/>
<circle cx="622.2" cy="378.4" r="7.6" fill="#7b0c82" stroke="#1a001a" stroke-width="1.1"/>
<circle cx="629.8" cy="388.6" r="7.6" fill="#7b0c82" stroke="#1a001a" stroke-width="1.1"/>
<circle cx="637.7" cy="387" r="7.6" fill="#7b0c82" stroke="#1a001a" stroke-width="1.1"/>
<circle cx="645.6" cy="391" r="7.6" fill="#7b0c82" stroke="#1a001a" stroke-width="1.1"/>
<circle cx="653.3" cy="361.6" r="7.6" fill="#7b0c82" stroke="#1a001a" stroke-width="1.1"/>
<circle cx="661.1" cy="361.6" r="7.6" fill="#7b0c82" stroke="#1a001a" stroke-width="1.1"/>
<circle cx="669.4" cy="361" r="7.6" fill="#7b0c82" stroke="#1a001a" stroke-width="1.1"/>
<circle cx="676.7" cy="337.9" r="7.6" fill="#7b0c82" stroke="#1a001a" stroke-width="1.1"/>
<circle cx="684.6" cy="338.2" r="7.6" fill="#7b0c82" stroke="#1a001a" stroke-width="1.1"/>
<circle cx="700.2" cy="326.5" r="7.6" fill="#7b0c82" stroke="#1a001a" stroke-width="1.1"/>
<circle cx="708" cy="325.8" r="7.6" fill="#7b0c82" stroke="#1a001a" stroke-width="1.1"/>
<circle cx="716.3" cy="322.7" r="7.6" fill="#7b0c82" stroke="#1a001a" stroke-width="1.1"/>
<circle cx="731.6" cy="381.1" r="7.6" fill="#7b0c82" stroke="#1a001a" stroke-width="1.1"/>
<circle cx="739.5" cy="381.4" r="7.6" fill="#7b0c82" stroke="#1a001a" stroke-width="1.1"/>
<circle cx="747.6" cy="379" r="7.6" fill="#7b0c82" stroke="#1a001a" stroke-width="1.1"/>
<circle cx="755.5" cy="379.7" r="7.6" fill="#7b0c82" stroke="#1a001a" stroke-width="1.1"/>
<circle cx="763" cy="367" r="7.6" fill="#7b0c82" stroke="#1a001a" stroke-width="1.1"/>
<circle cx="771" cy="397.2" r="7.6" fill="#7b0c82" stroke="#1a001a" stroke-width="1.1"/>
<circle cx="778.7" cy="364.3" r="7.6" fill="#7b0c82" stroke="#1a001a" stroke-width="1.1"/>
<circle cx="786.5" cy="340.4" r="7.6" fill="#7b0c82" stroke="#1a001a" stroke-width="1.1"/>
<circle cx="794.5" cy="321.7" r="7.6" fill="#7b0c82" stroke="#1a001a" stroke-width="1.1"/>
<circle cx="809.1" cy="328.9" r="7.6" fill="#7b0c82" stroke="#1a001a" stroke-width="1.1"/>
<circle cx="817.3" cy="331.6" r="7.6" fill="#7b0c82" stroke="#1a001a" stroke-width="1.1"/>
<circle cx="825.6" cy="327.3" r="7.6" fill="#7b0c82" stroke="#1a001a" stroke-width="1.1"/>
<circle cx="841.3" cy="320.3" r="7.6" fill="#7b0c82" stroke="#1a001a" stroke-width="1.1"/>
<circle cx="848.4" cy="331.2" r="7.6" fill="#7b0c82" stroke="#1a001a" stroke-width="1.1"/>
<circle cx="856.6" cy="335.3" r="7.6" fill="#7b0c82" stroke="#1a001a" stroke-width="1.1"/>
<circle cx="864.8" cy="314.8" r="7.6" fill="#7b0c82" stroke="#1a001a" stroke-width="1.1"/>
<circle cx="872.7" cy="331.7" r="7.6" fill="#7b0c82" stroke="#1a001a" stroke-width="1.1"/>
<circle cx="879.9" cy="306.4" r="7.6" fill="#7b0c82" stroke="#1a001a" stroke-width="1.1"/>
<circle cx="888.5" cy="297.6" r="7.6" fill="#7b0c82" stroke="#1a001a" stroke-width="1.1"/>
<circle cx="896.1" cy="307.3" r="7.6" fill="#7b0c82" stroke="#1a001a" stroke-width="1.1"/>
<circle cx="904" cy="309.9" r="7.6" fill="#7b0c82" stroke="#1a001a" stroke-width="1.1"/>
<rect x="1038.5" y="115" width="45.5" height="13.5" rx="1.5" fill="#000"/>
<rect x="1039.6" y="145.1" width="43.3" height="11.3" fill="#fff" stroke="#bbb" stroke-width="2.2"/>
<text x="1096.51" y="130.5" font-size="29.09" textLength="69.44" lengthAdjust="spacingAndGlyphs" fill="#000">Basal</text>
<text x="1095.67" y="162.8" font-size="29.53" textLength="40.75" lengthAdjust="spacingAndGlyphs" fill="#000">ND</text>
<line x1="1243.5" y1="153.6" x2="1474.1" y2="153.6" stroke="#4a78c0" stroke-width="1.4"/>
<line x1="1359.6" y1="153.6" x2="1359.6" y2="185.9" stroke="#4a78c0" stroke-width="1.4"/>
<line x1="1474.1" y1="153.6" x2="1474.1" y2="185.9" stroke="#4a78c0" stroke-width="1.4"/>
<text x="1354.58" y="144.6" font-size="24.82" textLength="13.31" lengthAdjust="spacingAndGlyphs" fill="#000" stroke="#000" stroke-width="0.4">#</text>
<text x="1453.05" y="147" font-size="25" textLength="39.33" lengthAdjust="spacingAndGlyphs" fill="#000" stroke="#000" stroke-width="0.4">n.s.</text>
<path d="M1186.8,260.2 L1186.8,239.2 L1236.5,239.2 L1236.5,260.2" fill="none" stroke="#000" stroke-width="1.5"/>
<path d="M1293.3,258.8 L1293.3,238.6 L1342.5,238.6 L1342.5,258.8" fill="none" stroke="#000" stroke-width="1.5"/>
<path d="M1204.4,220.8 L1204.4,230.6 M1200.03,223.48 L1208.77,227.92 M1200.03,227.92 L1208.77,223.48" stroke="#000" stroke-width="2.2" stroke-linecap="round" fill="none"/>
<path d="M1221.4,220.8 L1221.4,230.6 M1217.03,223.48 L1225.77,227.92 M1217.03,227.92 L1225.77,223.48" stroke="#000" stroke-width="2.2" stroke-linecap="round" fill="none"/>
<path d="M1310.3,219.7 L1310.3,229.5 M1305.93,222.38 L1314.67,226.82 M1305.93,226.82 L1314.67,222.38" stroke="#000" stroke-width="2.2" stroke-linecap="round" fill="none"/>
<path d="M1326.4,219.7 L1326.4,229.5 M1322.03,222.38 L1330.77,226.82 M1322.03,226.82 L1330.77,222.38" stroke="#000" stroke-width="2.2" stroke-linecap="round" fill="none"/>
<line x1="1151.6" y1="265" x2="1151.6" y2="457.7" stroke="#000" stroke-width="3.2"/>
<line x1="1139.8" y1="266.6" x2="1151.6" y2="266.6" stroke="#000" stroke-width="3"/>
<line x1="1139.8" y1="329.73" x2="1151.6" y2="329.73" stroke="#000" stroke-width="3"/>
<line x1="1139.8" y1="392.87" x2="1151.6" y2="392.87" stroke="#000" stroke-width="3"/>
<line x1="1139.8" y1="456" x2="1499" y2="456" stroke="#000" stroke-width="3.4"/>
<text x="1069.23" y="277.66" font-size="33.52" textLength="55.04" lengthAdjust="spacingAndGlyphs" fill="#000">120</text>
<text x="1069.23" y="341.66" font-size="33.52" textLength="55.04" lengthAdjust="spacingAndGlyphs" fill="#000">100</text>
<text x="1086.35" y="404.36" font-size="33.52" textLength="38.01" lengthAdjust="spacingAndGlyphs" fill="#000">80</text>
<text x="1086.08" y="467.56" font-size="33.52" textLength="38.29" lengthAdjust="spacingAndGlyphs" fill="#000">60</text>
<rect x="1161.1" y="332.3" width="43.8" height="122.7" fill="#000" stroke="#000" stroke-width="3"/>
<rect x="1212.3" y="393.2" width="45.3" height="61.8" fill="#ff0000" stroke="#f08a8a" stroke-width="3"/>
<rect x="1276.8" y="332.3" width="43.8" height="122.7" fill="#000" stroke="#000" stroke-width="3"/>
<rect x="1328" y="393.2" width="45.3" height="61.8" fill="#00ff00" stroke="#008a00" stroke-width="3"/>
<rect x="1392.4" y="336.7" width="43.9" height="118.3" fill="#000" stroke="#000" stroke-width="3"/>
<rect x="1444.3" y="336.7" width="45.6" height="118.3" fill="#0000e0" stroke="#00e5ff" stroke-width="3"/>
<line x1="1171.5" y1="327.9" x2="1195.5" y2="327.9" stroke="#000" stroke-width="2.4"/>
<line x1="1287.5" y1="327.9" x2="1311.5" y2="327.9" stroke="#000" stroke-width="2.4"/>
<line x1="1414.4" y1="327.9" x2="1414.4" y2="338" stroke="#000" stroke-width="2.4"/>
<line x1="1402.4" y1="327.9" x2="1426.4" y2="327.9" stroke="#000" stroke-width="2.4"/>
<line x1="1402.4" y1="338" x2="1426.4" y2="338" stroke="#000" stroke-width="2.4"/>
<line x1="1235.1" y1="377" x2="1235.1" y2="404.9" stroke="#f08a8a" stroke-width="2.4"/>
<line x1="1223.1" y1="377" x2="1247.1" y2="377" stroke="#f08a8a" stroke-width="2.4"/>
<line x1="1223.1" y1="404.9" x2="1247.1" y2="404.9" stroke="#f08a8a" stroke-width="2.4"/>
<line x1="1350.9" y1="380" x2="1350.9" y2="403.4" stroke="#008a00" stroke-width="2.4"/>
<line x1="1338.9" y1="380" x2="1362.9" y2="380" stroke="#008a00" stroke-width="2.4"/>
<line x1="1338.9" y1="403.4" x2="1362.9" y2="403.4" stroke="#008a00" stroke-width="2.4"/>
<line x1="1466.8" y1="327.3" x2="1466.8" y2="343.1" stroke="#00e5ff" stroke-width="2.4"/>
<line x1="1454.8" y1="327.3" x2="1478.8" y2="327.3" stroke="#00e5ff" stroke-width="2.4"/>
<line x1="1454.8" y1="343.1" x2="1478.8" y2="343.1" stroke="#00e5ff" stroke-width="2.4"/>
<circle cx="1181" cy="311.7" r="6.1" fill="none" stroke="#8a8a8a" stroke-width="2.3"/>
<circle cx="1181" cy="320.5" r="6.1" fill="none" stroke="#8a8a8a" stroke-width="2.3"/>
<circle cx="1181" cy="324.5" r="6.1" fill="none" stroke="#8a8a8a" stroke-width="2.3"/>
<circle cx="1181" cy="328" r="6.1" fill="none" stroke="#8a8a8a" stroke-width="2.3"/>
<circle cx="1181" cy="331.5" r="6.1" fill="none" stroke="#8a8a8a" stroke-width="2.3"/>
<circle cx="1181" cy="335" r="6.1" fill="none" stroke="#8a8a8a" stroke-width="2.3"/>
<circle cx="1181" cy="338.5" r="6.1" fill="none" stroke="#8a8a8a" stroke-width="2.3"/>
<circle cx="1234.3" cy="328.4" r="6.1" fill="none" stroke="#8a8a8a" stroke-width="2.3"/>
<circle cx="1234.3" cy="341" r="6.1" fill="none" stroke="#8a8a8a" stroke-width="2.3"/>
<circle cx="1234.3" cy="342.5" r="6.1" fill="none" stroke="#8a8a8a" stroke-width="2.3"/>
<circle cx="1234.3" cy="359.5" r="6.1" fill="none" stroke="#8a8a8a" stroke-width="2.3"/>
<circle cx="1234.3" cy="363" r="6.1" fill="none" stroke="#8a8a8a" stroke-width="2.3"/>
<circle cx="1234.3" cy="367.4" r="6.1" fill="none" stroke="#8a8a8a" stroke-width="2.3"/>
<circle cx="1234.3" cy="371.8" r="6.1" fill="none" stroke="#8a8a8a" stroke-width="2.3"/>
<circle cx="1234.3" cy="375.3" r="6.1" fill="none" stroke="#8a8a8a" stroke-width="2.3"/>
<circle cx="1234.3" cy="409.3" r="6.1" fill="none" stroke="#8a8a8a" stroke-width="2.3"/>
<circle cx="1234.3" cy="427.4" r="6.1" fill="none" stroke="#8a8a8a" stroke-width="2.3"/>
<circle cx="1234.3" cy="431.8" r="6.1" fill="none" stroke="#8a8a8a" stroke-width="2.3"/>
<circle cx="1234.3" cy="443.5" r="6.1" fill="none" stroke="#8a8a8a" stroke-width="2.3"/>
<circle cx="1297.2" cy="318.5" r="6.1" fill="none" stroke="#8a8a8a" stroke-width="2.3"/>
<circle cx="1297.2" cy="326.4" r="6.1" fill="none" stroke="#8a8a8a" stroke-width="2.3"/>
<circle cx="1297.2" cy="330.8" r="6.1" fill="none" stroke="#8a8a8a" stroke-width="2.3"/>
<circle cx="1297.2" cy="338.1" r="6.1" fill="none" stroke="#8a8a8a" stroke-width="2.3"/>
<circle cx="1350.8" cy="345.4" r="6.1" fill="none" stroke="#8a8a8a" stroke-width="2.3"/>
<circle cx="1350.8" cy="355.7" r="6.1" fill="none" stroke="#8a8a8a" stroke-width="2.3"/>
<circle cx="1350.8" cy="368.9" r="6.1" fill="none" stroke="#8a8a8a" stroke-width="2.3"/>
<circle cx="1350.8" cy="382.9" r="6.1" fill="none" stroke="#8a8a8a" stroke-width="2.3"/>
<circle cx="1350.8" cy="387.9" r="6.1" fill="none" stroke="#8a8a8a" stroke-width="2.3"/>
<circle cx="1350.8" cy="417.2" r="6.1" fill="none" stroke="#8a8a8a" stroke-width="2.3"/>
<circle cx="1350.8" cy="446.5" r="6.1" fill="none" stroke="#8a8a8a" stroke-width="2.3"/>
<circle cx="1414.4" cy="314.7" r="6.1" fill="none" stroke="#8a8a8a" stroke-width="2.3"/>
<circle cx="1414.4" cy="329.3" r="6.1" fill="none" stroke="#8a8a8a" stroke-width="2.3"/>
<circle cx="1414.4" cy="333.1" r="6.1" fill="none" stroke="#8a8a8a" stroke-width="2.3"/>
<circle cx="1414.4" cy="368" r="6.1" fill="none" stroke="#8a8a8a" stroke-width="2.3"/>
<circle cx="1467.1" cy="315.6" r="6.1" fill="none" stroke="#8a8a8a" stroke-width="2.3"/>
<circle cx="1467.1" cy="320.5" r="6.1" fill="none" stroke="#8a8a8a" stroke-width="2.3"/>
<circle cx="1467.1" cy="324.9" r="6.1" fill="none" stroke="#8a8a8a" stroke-width="2.3"/>
<circle cx="1467.1" cy="338.1" r="6.1" fill="none" stroke="#8a8a8a" stroke-width="2.3"/>
<circle cx="1467.1" cy="368.9" r="6.1" fill="none" stroke="#8a8a8a" stroke-width="2.3"/>
<text transform="translate(1016.8,362.8) rotate(-90)" x="-185.29" y="10.1" font-size="39.03" textLength="371.23" lengthAdjust="spacingAndGlyphs" fill="#000">Synaptic efficacy (%)</text>
<text transform="translate(1207.7,531.7) rotate(-39)" x="-54.71" y="12.16" font-size="34.01" textLength="109.97" lengthAdjust="spacingAndGlyphs" fill="#000">Control</text>
<text transform="translate(1311.8,528.7) rotate(-39)" x="-60.31" y="11.9" font-size="34.63" textLength="119.43" lengthAdjust="spacingAndGlyphs" fill="#000">LEI-401</text>
<text transform="translate(1437,514.9) rotate(-39)" x="-32.27" y="12" font-size="34.91" textLength="64.95" lengthAdjust="spacingAndGlyphs" fill="#000">THL</text>
<text x="193.41" y="705" font-size="41.75" textLength="80.45" lengthAdjust="spacingAndGlyphs" fill="#000" stroke="#000" stroke-width="0.4">IPSC</text>
<text x="100.8" y="748" font-size="32.29" textLength="108.49" lengthAdjust="spacingAndGlyphs" fill="#000" stroke="#000" stroke-width="0.4">Basal(1)</text>
<text x="321.73" y="748" font-size="32.29" textLength="91.59" lengthAdjust="spacingAndGlyphs" fill="#000" stroke="#000" stroke-width="0.4">AEA<tspan fill="#e01b1b" stroke="#e01b1b">(2)</tspan></text>
<path d="M50.5,854.63 L50.95,852.25 L51.4,848.21 L51.85,847.07 L52.3,844.35 L52.75,846.57 L53.2,845.51 L53.65,843.05 L54.1,843.87 L54.55,842.04 L55,843.29 L55.45,840.9 L55.9,846.21 L56.35,840.28 L56.8,841 L57.25,839.26 L57.7,845.07 L58.15,838.88 L58.6,843.39 L59.05,838.75 L59.5,840.46 L59.95,840.01 L60.4,839.28 L60.85,840.31 L61.3,838.07 L61.75,839.41 L62.2,838.45 L62.65,835.99 L63.1,838.23 L63.55,838.6 L64,838.35 L64.45,839.42 L64.9,837.86 L65.35,839.47 L65.8,835.24 L66.25,841.33 L66.7,834.16 L67.15,839.85 L67.6,840.11 L68.05,839.37 L68.5,837.11 L68.95,839.09 L69.4,837.97 L69.85,838.77 L70.3,837.1 L70.75,839.74 L71.2,837.68 L71.65,838.52 L72.1,837.65 L72.55,842.93 L73,836.82 L73.45,837.87 L73.9,839.05 L74.35,836.64 L74.8,838.89 L75.25,836.08 L75.7,836.02 L76.15,840.15 L76.6,832.22 L77.05,838.17 L77.5,836.02 L77.95,836.89 L78.4,831.77 L78.85,837.56 L79.3,834.98 L79.75,836.39 L80.2,835.59 L81,836" fill="none" stroke="#111" stroke-width="1.1" stroke-linejoin="round"/>
<line x1="81.7" y1="780" x2="81.7" y2="894.7" stroke="#222" stroke-width="1.1"/>
<line x1="83.9" y1="792.5" x2="83.9" y2="930.7" stroke="#444" stroke-width="2.9"/>
<path d="M85.3,792.5 L86.9,810.4 L89.1,817.2 L90.2,835.2 L91.3,857.6 L92.5,927.3 L93.6,972.2 L94.7,982.4 L94.7,982.65 L95.15,980.36 L95.6,978.71 L96.05,976.19 L96.5,974.6 L96.95,971.9 L97.4,969.74 L97.85,966.12 L98.3,963.71 L98.75,959.97 L99.2,957.09 L99.65,954.45 L100.1,951.1 L100.55,949.58 L101,946.83 L101.45,945.51 L101.9,944.4 L102.35,941.4 L102.8,939.99 L103.25,937.79 L103.7,936.6 L104.15,934.47 L104.6,934.17 L105.05,931.52 L105.5,930.7 L105.95,928.65 L106.4,927.72 L106.85,923.35 L107.3,922.91 L107.75,922.32 L108.2,919.42 L108.65,916.26 L109.1,914.89 L109.55,914.26 L110,908.42 L110.45,908.1 L110.9,905.49 L111.35,908.04 L111.8,902.16 L112.25,904.13 L112.7,899.7 L113.15,899.43 L113.6,896.63 L114.05,897.09 L114.5,896.22 L114.95,897.53 L115.4,892.42 L115.85,892.8 L116.3,890.64 L116.75,891.24 L117.2,885.79 L117.65,888.63 L118.1,886.37 L118.55,884.92 L119,886.07 L119.45,883.26 L119.9,884.17 L120.35,881 L120.8,881.97 L121.25,879.84 L121.7,877.99 L122.15,878.04 L122.6,873.8 L123.05,875.82 L123.5,872.44 L123.95,873.6 L124.4,870.77 L124.85,873.35 L125.3,869.91 L125.75,871.68 L126.2,865.04 L126.65,870.41 L127.1,867.47 L127.55,868.19 L128,866.63 L128.45,868.02 L128.9,863.88 L129.35,864.78 L129.8,869.76 L130.25,863.44 L130.7,865.27 L131.15,862.6 L131.6,864.55 L132.05,863.95 L132.5,857.77 L132.95,863.86 L133.4,857.21 L133.85,865.24 L134.3,861.87 L134.75,862.82 L135.2,861.12 L135.65,861.21 L136.1,862.3 L136.55,859.52 L137,861.81 L137.45,859.65 L137.9,860.98 L138.35,861.69 L138.8,854.69 L139.25,860.76 L139.7,856.26 L140.15,859.37 L140.6,858.13 L141.05,859.77 L141.5,863.63 L141.95,858.65 L142.4,858.39 L142.85,856.48 L143.3,857.72 L143.75,850.89 L144.2,860.79 L144.65,851.89 L145.1,857.04 L145.55,854.62 L146,856.83 L146.45,860.1 L146.9,854.41 L147.35,856.15 L147.8,853.94 L148.25,854.19 L148.7,856.05 L149.15,853.24 L149.6,854.98 L150.05,852.02 L150.5,854.66 L150.95,852.89 L151.4,854.01 L151.85,853.75 L152.3,851.67 L152.75,853.86 L153.2,850.72 L153.65,851.56 L154.1,853.45 L154.55,850.32 L155,852.38 L155.45,852.92 L155.9,850.09 L156.35,851.29 L156.8,849.39 L157.25,851.63 L157.7,849.73 L158.15,848.89 L158.6,846.43 L159.05,850.03 L159.5,848.77 L159.95,849.56 L160.4,846.99 L160.85,849.59 L161.3,848.73 L161.75,853.95 L162.2,847.15 L162.65,846.31 L163.1,848.33 L163.55,848.24 L164,841.07 L164.45,846.77 L164.9,845.42 L165.35,850.56 L165.8,839.93 L166.25,847.24 L166.7,842.76 L167.15,846.4 L167.6,845.81 L168.05,843.59 L168.5,846.12 L168.95,843.54 L169.4,844.32 L169.85,845.06 L170.3,839.1 L170.75,849.21 L171.2,844.12 L171.65,841.87 L172.1,844.43 L172.55,841.16 L173,842.68 L173.45,841.87 L173.9,842.8 L174.35,840.74 L174.8,837.99 L175.25,839.66 L175.7,843.02 L176.15,840.49 L176.6,843.61 L177.05,839.06 L177.5,845.91 L177.95,836.53 L178.4,845.9 L178.85,839.3 L179.3,840.02 L179.75,833.41 L180.2,840.25 L180.65,837.19 L181.1,840.05 L181.55,837.69 L182,839.36 L182.45,837.49 L182.9,836.98 L183.35,838.4 L183.8,842.63 L184.25,836.34 L184.7,838.45 L185.15,835.62 L185.6,839.98 L186.05,831.84 L186.5,836.92 L186.95,838 L187.4,834.93 L187.85,839.37 L188.3,835 L188.75,830.41 L189.2,836.87 L189.65,834.13 L190.1,834.57 L190.55,833.26 L191,835.08 L191.45,828.64 L191.9,834.67 L192.35,832.23 L192.8,835.62 L193.25,832.96 L193.7,832.02 L194.15,833.75 L194.6,831.39 L195.05,836.96 L195.5,839.01 L195.95,831.16 L196.4,830.86 L196.85,832.53 L197.3,830.22 L197.75,837.8 L198.2,830.33 L198.65,833.16 L199.1,829.91 L199.55,834.8 L200,830.63 L200.45,829.87 L200.9,831.06 L201.35,829.95 L201.8,832.74 L202.25,829.29 L202.7,830.76 L203.15,829.22 L203.6,827.62 L204.05,829.89 L204.5,824.01 L204.95,830.48 L205.4,828.2 L205.85,828.22 L206.3,829.2 L206.75,827.71 L207.2,828.56 L207.65,827.46 L208.1,827.98 L208.55,826.1 L209,826.4 L209.45,828.79 L209.9,821.89 L210.35,825.07 L210.8,825.42 L211.25,828.06 L211.7,825.35 L212.15,827.85 L212.6,824.46 L213.05,826.79 L213.5,825.09 L213.95,825.92 L214.4,821.17 L214.85,826.09 L215.3,823.71 L215.75,829.35 L216.2,818.59 L216.65,827.62 L217.1,825.23 L217.55,823.5 L218,825.67 L218.45,822.95 L218.9,828.66 L219.35,823.45 L219.8,822.15 L220.25,825.01 L220.7,822.08 L221.15,823.82 L221.6,824.73 L222.05,822.13 L222.5,823.78 L222.95,824.07 L223.4,821.27 L223.85,823.91 L224.3,821.74 L224.75,822.97 L225.2,818.04 L225.65,822.9 L226.1,821.79 L226.55,821.87 L227,823.2 L227.45,820 L227.9,820.42 L228.35,821.83 L228.8,825.69 L229.25,819.99 L229.7,821.75 L230.15,819.49 L230.6,822.58 L231.05,819.33 L231.5,819.79 L231.95,824.67 L232.4,821.44 L232.85,820 L233.3,821.89 L233.75,818.75 L234.2,818.67 L234.65,821.39 L235.1,819.39" fill="none" stroke="#111" stroke-width="1.1" stroke-linejoin="round"/>
<line x1="97.2" y1="980.6" x2="309.7" y2="980.6" stroke="#111" stroke-width="1.6" stroke-dasharray="3.6 1.9"/>
<path d="M266.2,858.37 L266.65,854.14 L267.1,857.1 L267.55,855.35 L268,856.8 L268.45,855.5 L268.9,856.83 L269.35,850.26 L269.8,859.53 L270.25,850.76 L270.7,855 L271.15,853.27 L271.6,858.35 L272.05,854.28 L272.5,851.85 L272.95,853.17 L273.4,851.56 L273.85,852.47 L274.3,851.28 L274.75,851.79 L275.2,847.78 L275.65,853.2 L276.1,845.72 L276.55,851.08 L277,854.76 L277.45,846.33 L277.9,850.98 L278.35,848.62 L278.8,849.83 L279.25,847.83 L279.7,849.37 L280.15,847.64 L280.6,848.62 L281.05,846.73 L281.5,848.77 L281.95,846.33 L282.4,847.49 L282.85,844.2 L283.3,847.7 L283.75,844.73 L284.2,846.52 L284.65,845.91 L285.1,842.11 L285.55,845.38 L286,843.91 L286.45,844.64 L286.9,843.9 L287.35,844.7 L287.8,842.98 L288.25,844.74 L288.7,840.19 L289.15,843.03 L289.6,841.74 L290.05,839.99 L290.5,843.38 L290.95,837.86 L291.4,842.07 L291.85,842.14 L292.3,839.68 L292.75,841.9 L293.2,842.01 L293.65,839.18 L294.1,842.53 L294.55,838.39 L296,839" fill="none" stroke="#e01010" stroke-width="1.1" stroke-linejoin="round"/>
<line x1="296.9" y1="775.2" x2="296.9" y2="930.5" stroke="#e01010" stroke-width="1.2"/>
<line x1="299.1" y1="792.8" x2="299.1" y2="930.5" stroke="#e01010" stroke-width="1.2"/>
<path d="M299.3,806 L300.7,815.5 L302,816 L304.2,826 L306,846.6 L307,884 L308.4,924 L309.2,940 L310,942.6 L311,932 L312,941 L313.5,933.3 L313.5,933.9 L313.95,929.67 L314.4,929.65 L314.85,926.6 L315.3,925.12 L315.75,923.03 L316.2,920.45 L316.65,918.75 L317.1,916.25 L317.55,915.94 L318,911.92 L318.45,914.47 L318.9,910.3 L319.35,910.13 L319.8,907.56 L320.25,907.54 L320.7,902.39 L321.15,905.06 L321.6,901.89 L322.05,901.86 L322.5,898.48 L322.95,898.91 L323.4,890.83 L323.85,896.6 L324.3,892.61 L324.75,891.85 L325.2,894.61 L325.65,888.72 L326.1,889.41 L326.55,885.48 L327,887.61 L327.45,884.32 L327.9,883.81 L328.35,882.5 L328.8,877.12 L329.25,880.33 L329.7,872.77 L330.15,880.57 L330.6,872.03 L331.05,877.61 L331.5,873.81 L331.95,875.67 L332.4,873.29 L332.85,875.07 L333.3,872.24 L333.75,874.13 L334.2,872.37 L334.65,873.62 L335.1,870.65 L335.55,876.21 L336,870.15 L336.45,872.24 L336.9,871.39 L337.35,870 L337.8,870.97 L338.25,874.5 L338.7,867.61 L339.15,868.99 L339.6,865.95 L340.05,867.62 L340.5,867.79 L340.95,864.26 L341.4,871.34 L341.85,868.9 L342.3,862.78 L342.75,865.61 L343.2,861.53 L343.65,866.68 L344.1,862.99 L344.55,860.62 L345,864.81 L345.45,858.72 L345.9,860.74 L346.35,858.53 L346.8,861.8 L347.25,853.51 L347.7,858.62 L348.15,855.85 L348.6,857.33 L349.05,854.99 L349.5,856.69 L349.95,854.49 L350.4,858.5 L350.85,854.3 L351.3,852.8 L351.75,855.21 L352.2,852.69 L352.65,856.66 L353.1,852.36 L353.55,854.24 L354,853.67 L354.45,851.8 L354.9,856.69 L355.35,846.02 L355.8,852.44 L356.25,852 L356.7,849.65 L357.15,852.1 L357.6,849.77 L358.05,850.73 L358.5,846.87 L358.95,850.93 L359.4,848.55 L359.85,853.98 L360.3,847.67 L360.75,849.42 L361.2,849.61 L361.65,848.16 L362.1,851.97 L362.55,848.71 L363,842.68 L363.45,848.61 L363.9,846.69 L364.35,848.32 L364.8,841.41 L365.25,848.66 L365.7,845.21 L366.15,851.45 L366.6,848.05 L367.05,845.46 L367.5,846.42 L367.95,846.35 L368.4,845.02 L368.85,845.59 L369.3,844.48 L369.75,844.43 L370.2,843.3 L370.65,846.15 L371.1,842.69 L371.55,844.49 L372,845.36 L372.45,838.05 L372.9,841.98 L373.35,844.66 L373.8,839.68 L374.25,843.77 L374.7,840.41 L375.15,844.4 L375.6,840.77 L376.05,843.12 L376.5,841.43 L376.95,843.35 L377.4,840.06 L377.85,836.66 L378.3,843.07 L378.75,840.53 L379.2,842.57 L379.65,839.7 L380.1,845.7 L380.55,838.18 L381,846.07 L381.45,837.45 L381.9,842.03 L382.35,839.18 L382.8,842.84 L383.25,837.47 L383.7,841.37 L384.15,838.14 L384.6,841.94 L385.05,837.77 L385.5,840.08 L385.95,837.82 L386.4,839.17 L386.85,833.59 L387.3,840.36 L387.75,834.58 L388.2,836.87 L388.65,839.18 L389.1,837.78 L389.55,838.39 L390,837.05 L390.45,833.68 L390.9,838.24 L391.35,839.11 L391.8,836.88 L392.25,838.82 L392.7,836.08 L393.15,837.59 L393.6,832.27 L394.05,839.94 L394.5,837.52 L394.95,834.53 L395.4,834.29 L395.85,841.53 L396.3,834.27 L396.75,837.55 L397.2,835.21 L397.65,835.34 L398.1,837.05 L398.55,834.91 L399,836.62 L399.45,834.85 L399.9,836.35 L400.35,834.1 L400.8,834.57 L401.25,835.84 L401.7,834.68 L402.15,836.68 L402.6,833.98 L403.05,836.48 L403.5,833.94 L403.95,835.32 L404.4,833.68 L404.85,840.48 L405.3,830.97 L405.75,835.99 L406.2,830.46 L406.65,835.84 L407.1,833.61 L407.55,834.99 L408,835.25 L408.45,833.68 L408.9,832.82 L409.35,839.57 L409.8,831.13 L410.25,835.3 L410.7,833.38 L411.15,835.6 L411.6,832.88 L412.05,834.3 L412.5,832.71 L412.95,834.41 L413.4,828.35 L413.85,834.07 L414.3,831.68 L414.75,834.2 L415.2,833.07 L415.65,834.76 L416.1,831.39 L416.55,836.31 L417,832.01 L417.45,834.33 L417.9,827.67 L418.35,833.17 L418.8,832.56 L419.25,834.51 L419.7,832.19 L420.15,834 L420.6,835.1 L421.05,828.51 L421.5,833.27 L421.95,831.78 L422.4,828.62 L422.85,833.13 L423.3,830.94 L423.75,832.06 L424.2,830.2 L424.65,836.03 L425.1,825.49 L425.55,831.93 L426,829.64 L426.45,831.64 L426.9,827.91 L427.35,832.3 L427.8,825.08 L428.25,832.25 L428.7,829.01 L429.15,829.03 L429.6,834.12 L430.05,830.91 L430.5,828.84 L430.95,830.77 L431.4,825.83 L431.85,830.61 L432.3,828.69 L432.75,831.46 L433.2,828.73 L433.65,831.3 L434.1,829.29 L434.55,828.45 L435,831.1 L435.45,828.37 L435.9,832.33 L436.35,828.11 L436.8,830.15 L437.25,823.48 L437.7,832.28 L438.15,829.14 L438.6,827.51 L439.05,829.49 L439.5,827.4 L439.95,828.52 L440.4,829.25 L440.85,827.68 L441.3,828.62 L441.75,826.07 L442.2,829 L442.65,826.86 L443.1,826.61 L443.55,827.01 L444,832.2 L444.45,826.85 L444.9,828.9 L445.35,825.76 L445.8,827.56 L446.25,826.06 L446.7,828" fill="none" stroke="#e01010" stroke-width="1.05" stroke-linejoin="round"/>
<path d="M373.6,930 L373.6,998.2 L431.1,998.2" fill="none" stroke="#000" stroke-width="1.6"/>
<text x="846.43" y="691" font-size="26.47" textLength="54.7" lengthAdjust="spacingAndGlyphs" fill="#000" stroke="#000" stroke-width="0.4">AEA</text>
<line x1="721.7" y1="694.2" x2="1012.5" y2="694.2" stroke="#8ab42c" stroke-width="3.2"/>
<line x1="663.9" y1="702.3" x2="663.9" y2="892.5" stroke="#000" stroke-width="3.4"/>
<line x1="652.1" y1="733.3" x2="663.9" y2="733.3" stroke="#000" stroke-width="3"/>
<line x1="652.1" y1="812" x2="663.9" y2="812" stroke="#000" stroke-width="3"/>
<line x1="652.1" y1="890.9" x2="1009" y2="890.9" stroke="#000" stroke-width="3.4"/>
<line x1="721" y1="890.9" x2="721" y2="898.8" stroke="#000" stroke-width="3"/>
<line x1="816.2" y1="890.9" x2="816.2" y2="898.8" stroke="#000" stroke-width="3"/>
<line x1="912.1" y1="890.9" x2="912.1" y2="898.8" stroke="#000" stroke-width="3"/>
<line x1="1007.6" y1="890.9" x2="1007.6" y2="898.8" stroke="#000" stroke-width="3"/>
<text x="575.15" y="744.25" font-size="34.67" textLength="54.51" lengthAdjust="spacingAndGlyphs" fill="#000">100</text>
<text x="595.58" y="822.96" font-size="33.67" textLength="34.04" lengthAdjust="spacingAndGlyphs" fill="#000">50</text>
<text x="611.28" y="902.36" font-size="33.67" textLength="18.4" lengthAdjust="spacingAndGlyphs" fill="#000">0</text>
<text x="710.14" y="946.27" font-size="32.66" textLength="20.27" lengthAdjust="spacingAndGlyphs" fill="#000">0</text>
<text x="794.97" y="946.27" font-size="32.66" textLength="39.03" lengthAdjust="spacingAndGlyphs" fill="#000">10</text>
<text x="891.99" y="946.27" font-size="32.66" textLength="38.08" lengthAdjust="spacingAndGlyphs" fill="#000">20</text>
<text x="988.23" y="946.27" font-size="32.66" textLength="37.62" lengthAdjust="spacingAndGlyphs" fill="#000">30</text>
<text x="742.31" y="1016" font-size="39.85" textLength="187.48" lengthAdjust="spacingAndGlyphs" fill="#000">Time (min)</text>
<text transform="translate(528,839.5) rotate(-90)" x="-175.18" y="10.54" font-size="40.75" textLength="349.1" lengthAdjust="spacingAndGlyphs" fill="#000">IPSC amplitude (%)</text>
<line x1="664" y1="733.3" x2="1008" y2="733.3" stroke="#333" stroke-width="1.2" stroke-dasharray="28.7 9.3"/>
<text x="669.33" y="786.5" font-size="27.93" textLength="16.07" lengthAdjust="spacingAndGlyphs" fill="#000" stroke="#000" stroke-width="0.4">1</text>
<text x="975.95" y="837.22" font-size="27.94" textLength="16.14" lengthAdjust="spacingAndGlyphs" fill="#e01b1b" stroke="#e01b1b" stroke-width="0.4">2</text>
<line x1="720.9" y1="715.3" x2="720.9" y2="758.7" stroke="#000" stroke-width="2"/>
<line x1="730.46" y1="734.7" x2="730.46" y2="764" stroke="#000" stroke-width="2"/>
<line x1="740.02" y1="727.4" x2="740.02" y2="762" stroke="#000" stroke-width="2"/>
<line x1="749.58" y1="735.4" x2="749.58" y2="760" stroke="#000" stroke-width="2"/>
<line x1="759.14" y1="720" x2="759.14" y2="752" stroke="#000" stroke-width="2"/>
<line x1="768.7" y1="724" x2="768.7" y2="748.7" stroke="#000" stroke-width="2"/>
<line x1="778.26" y1="744" x2="778.26" y2="762" stroke="#000" stroke-width="2"/>
<line x1="787.82" y1="750.7" x2="787.82" y2="774.7" stroke="#000" stroke-width="2"/>
<line x1="797.38" y1="748.7" x2="797.38" y2="784" stroke="#000" stroke-width="2"/>
<line x1="806.94" y1="754.7" x2="806.94" y2="784" stroke="#000" stroke-width="2"/>
<line x1="816.5" y1="748" x2="816.5" y2="768" stroke="#000" stroke-width="2"/>
<line x1="826.06" y1="738.7" x2="826.06" y2="772" stroke="#000" stroke-width="2"/>
<line x1="835.62" y1="745.4" x2="835.62" y2="772" stroke="#000" stroke-width="2"/>
<line x1="845.18" y1="749.4" x2="845.18" y2="773.4" stroke="#000" stroke-width="2"/>
<line x1="854.74" y1="750.7" x2="854.74" y2="788" stroke="#000" stroke-width="2"/>
<line x1="864.3" y1="756" x2="864.3" y2="794.7" stroke="#000" stroke-width="2"/>
<line x1="873.86" y1="750.7" x2="873.86" y2="780" stroke="#000" stroke-width="2"/>
<line x1="883.42" y1="766.7" x2="883.42" y2="800" stroke="#000" stroke-width="2"/>
<line x1="892.98" y1="768" x2="892.98" y2="795.4" stroke="#000" stroke-width="2"/>
<line x1="902.54" y1="753.4" x2="902.54" y2="781.4" stroke="#000" stroke-width="2"/>
<line x1="912.1" y1="760" x2="912.1" y2="786" stroke="#000" stroke-width="2"/>
<line x1="921.66" y1="756" x2="921.66" y2="782.7" stroke="#000" stroke-width="2"/>
<line x1="931.22" y1="754.7" x2="931.22" y2="792" stroke="#000" stroke-width="2"/>
<line x1="940.78" y1="745.4" x2="940.78" y2="762.7" stroke="#000" stroke-width="2"/>
<line x1="950.34" y1="756" x2="950.34" y2="782.7" stroke="#000" stroke-width="2"/>
<line x1="959.9" y1="754" x2="959.9" y2="784" stroke="#000" stroke-width="2"/>
<line x1="969.46" y1="769.4" x2="969.46" y2="804.7" stroke="#000" stroke-width="2"/>
<line x1="979.02" y1="769.4" x2="979.02" y2="810" stroke="#000" stroke-width="2"/>
<line x1="988.58" y1="774" x2="988.58" y2="814" stroke="#000" stroke-width="2"/>
<line x1="998.14" y1="765.4" x2="998.14" y2="800" stroke="#000" stroke-width="2"/>
<circle cx="673.1" cy="727.4" r="7.8" fill="#000" stroke="none" stroke-width="0"/>
<circle cx="682.66" cy="731.4" r="7.8" fill="#000" stroke="none" stroke-width="0"/>
<circle cx="692.22" cy="728" r="7.8" fill="#000" stroke="none" stroke-width="0"/>
<circle cx="701.78" cy="731.4" r="7.8" fill="#000" stroke="none" stroke-width="0"/>
<circle cx="711.34" cy="738" r="7.8" fill="#000" stroke="none" stroke-width="0"/>
<circle cx="720.9" cy="735.4" r="7.8" fill="#000" stroke="none" stroke-width="0"/>
<circle cx="730.46" cy="749.4" r="7.8" fill="#000" stroke="none" stroke-width="0"/>
<circle cx="740.02" cy="743.4" r="7.8" fill="#000" stroke="none" stroke-width="0"/>
<circle cx="749.58" cy="746" r="7.8" fill="#000" stroke="none" stroke-width="0"/>
<circle cx="759.14" cy="734.7" r="7.8" fill="#000" stroke="none" stroke-width="0"/>
<circle cx="768.7" cy="736" r="7.8" fill="#000" stroke="none" stroke-width="0"/>
<circle cx="778.26" cy="752.7" r="7.8" fill="#000" stroke="none" stroke-width="0"/>
<circle cx="787.82" cy="760.7" r="7.8" fill="#000" stroke="none" stroke-width="0"/>
<circle cx="797.38" cy="766" r="7.8" fill="#000" stroke="none" stroke-width="0"/>
<circle cx="806.94" cy="769.4" r="7.8" fill="#000" stroke="none" stroke-width="0"/>
<circle cx="816.5" cy="758" r="7.8" fill="#000" stroke="none" stroke-width="0"/>
<circle cx="826.06" cy="754" r="7.8" fill="#000" stroke="none" stroke-width="0"/>
<circle cx="835.62" cy="757.4" r="7.8" fill="#000" stroke="none" stroke-width="0"/>
<circle cx="845.18" cy="760.7" r="7.8" fill="#000" stroke="none" stroke-width="0"/>
<circle cx="854.74" cy="769.7" r="7.8" fill="#000" stroke="none" stroke-width="0"/>
<circle cx="864.3" cy="774.7" r="7.8" fill="#000" stroke="none" stroke-width="0"/>
<circle cx="873.86" cy="766.7" r="7.8" fill="#000" stroke="none" stroke-width="0"/>
<circle cx="883.42" cy="782.7" r="7.8" fill="#000" stroke="none" stroke-width="0"/>
<circle cx="892.98" cy="780.7" r="7.8" fill="#000" stroke="none" stroke-width="0"/>
<circle cx="902.54" cy="766.7" r="7.8" fill="#000" stroke="none" stroke-width="0"/>
<circle cx="912.1" cy="772.7" r="7.8" fill="#000" stroke="none" stroke-width="0"/>
<circle cx="921.66" cy="768" r="7.8" fill="#000" stroke="none" stroke-width="0"/>
<circle cx="931.22" cy="772.7" r="7.8" fill="#000" stroke="none" stroke-width="0"/>
<circle cx="940.78" cy="758" r="7.8" fill="#000" stroke="none" stroke-width="0"/>
<circle cx="950.34" cy="768.7" r="7.8" fill="#000" stroke="none" stroke-width="0"/>
<circle cx="959.9" cy="768.3" r="7.8" fill="#000" stroke="none" stroke-width="0"/>
<circle cx="969.46" cy="785.4" r="7.8" fill="#000" stroke="none" stroke-width="0"/>
<circle cx="979.02" cy="788.1" r="7.8" fill="#000" stroke="none" stroke-width="0"/>
<circle cx="988.58" cy="793.4" r="7.8" fill="#000" stroke="none" stroke-width="0"/>
<circle cx="998.14" cy="782" r="7.8" fill="#000" stroke="none" stroke-width="0"/>
<line x1="1273.9" y1="739.6" x2="1273.9" y2="930.8" stroke="#000" stroke-width="3.4"/>
<line x1="1262.1" y1="770.9" x2="1273.9" y2="770.9" stroke="#000" stroke-width="3"/>
<line x1="1262.1" y1="849.9" x2="1273.9" y2="849.9" stroke="#000" stroke-width="3"/>
<line x1="1262.1" y1="929" x2="1442" y2="929" stroke="#000" stroke-width="3.6"/>
<text x="1188.25" y="781.06" font-size="33.52" textLength="54.51" lengthAdjust="spacingAndGlyphs" fill="#000">100</text>
<text x="1206.64" y="860.66" font-size="34.38" textLength="37.71" lengthAdjust="spacingAndGlyphs" fill="#000">50</text>
<text x="1225.61" y="939.66" font-size="34.38" textLength="19.33" lengthAdjust="spacingAndGlyphs" fill="#000">0</text>
<circle cx="1319.5" cy="756.7" r="6.2" fill="none" stroke="#000" stroke-width="2.1"/>
<circle cx="1319.5" cy="769.5" r="6.2" fill="none" stroke="#000" stroke-width="2.1"/>
<rect x="1284.2" y="771.1" width="70.2" height="156.8" fill="#bfbfbf"/>
<line x1="1285.1" y1="771.1" x2="1285.1" y2="928" stroke="#808080" stroke-width="3.6"/>
<line x1="1353.6" y1="771.1" x2="1353.6" y2="928" stroke="#808080" stroke-width="3.4"/>
<rect x="1359.4" y="829.0" width="72.2" height="99" fill="#8db224"/>
<line x1="1361.2" y1="829" x2="1361.2" y2="928" stroke="#138a86" stroke-width="3.6"/>
<line x1="1429.8" y1="829" x2="1429.8" y2="928" stroke="#138a86" stroke-width="3.6"/>
<line x1="1307.8" y1="768.4" x2="1332.2" y2="768.4" stroke="#8c8c8c" stroke-width="2.4"/>
<line x1="1397.4" y1="821.4" x2="1397.4" y2="829" stroke="#138a86" stroke-width="2.4"/>
<line x1="1384.8" y1="821.4" x2="1409.8" y2="821.4" stroke="#138a86" stroke-width="2.6"/>
<circle cx="1397.5" cy="795.1" r="6.2" fill="none" stroke="#2a8f96" stroke-width="1.9"/>
<circle cx="1397.5" cy="816.5" r="6.2" fill="none" stroke="#2a8f96" stroke-width="1.9"/>
<path d="M1316.6,713.2 L1316.6,675.1 L1401,675.1 L1401,713.2" fill="none" stroke="#000" stroke-width="1.5"/>
<path d="M1349.1,654.3 L1349.1,664.1 M1344.73,656.98 L1353.47,661.42 M1344.73,661.42 L1353.47,656.98" stroke="#000" stroke-width="2.2" stroke-linecap="round" fill="none"/>
<path d="M1365.4,654.3 L1365.4,664.1 M1361.03,656.98 L1369.77,661.42 M1361.03,661.42 L1369.77,656.98" stroke="#000" stroke-width="2.2" stroke-linecap="round" fill="none"/>
<text transform="translate(1141.1,838.8) rotate(-90)" x="-175.74" y="10.1" font-size="39.03" textLength="350.22" lengthAdjust="spacingAndGlyphs" fill="#000">IPSC amplitude (%)</text>
<text transform="translate(1283.5,980.5) rotate(-29)" x="-56.77" y="14.84" font-size="41.5" textLength="114.12" lengthAdjust="spacingAndGlyphs" fill="#000">Control</text>
<text transform="translate(1380.5,983.5) rotate(-30)" x="-29.57" y="13.5" font-size="39.27" textLength="59.1" lengthAdjust="spacingAndGlyphs" fill="#000">AEA</text>
</svg></body></html>
